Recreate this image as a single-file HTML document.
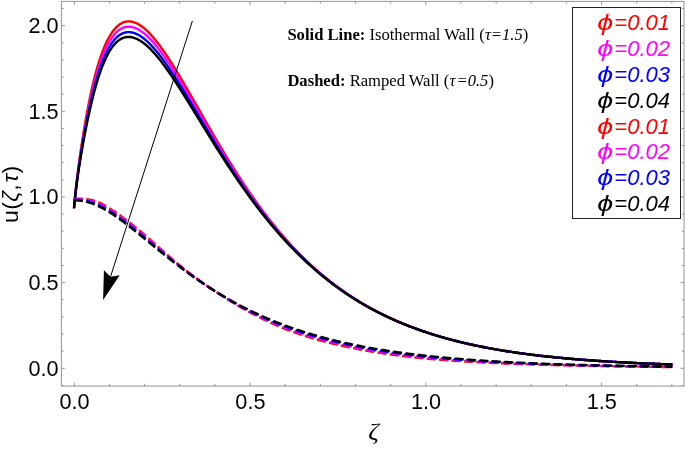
<!DOCTYPE html>
<html lang="en"><head><meta charset="utf-8"><title>u(ζ,τ) velocity profile</title>
<style>html,body{margin:0;padding:0;background:#fff}body{width:685px;height:450px;overflow:hidden}svg{display:block;will-change:transform}.t{font-family:"Liberation Sans",Arial,sans-serif;font-size:22px;fill:#000}.lg{font-family:"Liberation Sans",Arial,sans-serif;font-size:22px;font-style:italic}.an{font-family:"Liberation Serif","Times New Roman",serif;font-size:16.6px;fill:#000}</style></head><body>
<svg width="685" height="450" viewBox="0 0 685 450">
<rect width="685" height="450" fill="#fff"/>
<rect x="61.4" y="1.4" width="622.6" height="384.70000000000005" fill="none" stroke="#949494" stroke-width="1"/>
<path d="M74.30,386.1v-3.5M74.30,1.4v3.5M109.45,386.1v-2.2M109.45,1.4v2.2M144.60,386.1v-2.2M144.60,1.4v2.2M179.75,386.1v-2.2M179.75,1.4v2.2M214.90,386.1v-2.2M214.90,1.4v2.2M250.05,386.1v-3.5M250.05,1.4v3.5M285.20,386.1v-2.2M285.20,1.4v2.2M320.35,386.1v-2.2M320.35,1.4v2.2M355.50,386.1v-2.2M355.50,1.4v2.2M390.65,386.1v-2.2M390.65,1.4v2.2M425.80,386.1v-3.5M425.80,1.4v3.5M460.95,386.1v-2.2M460.95,1.4v2.2M496.10,386.1v-2.2M496.10,1.4v2.2M531.25,386.1v-2.2M531.25,1.4v2.2M566.40,386.1v-2.2M566.40,1.4v2.2M601.55,386.1v-3.5M601.55,1.4v3.5M636.70,386.1v-2.2M636.70,1.4v2.2M671.85,386.1v-2.2M671.85,1.4v2.2M61.4,385.43h2.2M684.0,385.43h-2.2M61.4,368.30h3.5M684.0,368.30h-3.5M61.4,351.17h2.2M684.0,351.17h-2.2M61.4,334.04h2.2M684.0,334.04h-2.2M61.4,316.91h2.2M684.0,316.91h-2.2M61.4,299.78h2.2M684.0,299.78h-2.2M61.4,282.65h3.5M684.0,282.65h-3.5M61.4,265.52h2.2M684.0,265.52h-2.2M61.4,248.39h2.2M684.0,248.39h-2.2M61.4,231.26h2.2M684.0,231.26h-2.2M61.4,214.13h2.2M684.0,214.13h-2.2M61.4,197.00h3.5M684.0,197.00h-3.5M61.4,179.87h2.2M684.0,179.87h-2.2M61.4,162.74h2.2M684.0,162.74h-2.2M61.4,145.61h2.2M684.0,145.61h-2.2M61.4,128.48h2.2M684.0,128.48h-2.2M61.4,111.35h3.5M684.0,111.35h-3.5M61.4,94.22h2.2M684.0,94.22h-2.2M61.4,77.09h2.2M684.0,77.09h-2.2M61.4,59.96h2.2M684.0,59.96h-2.2M61.4,42.83h2.2M684.0,42.83h-2.2M61.4,25.70h3.5M684.0,25.70h-3.5M61.4,8.57h2.2M684.0,8.57h-2.2" stroke="#949494" stroke-width="1" fill="none"/>
<text class="t" transform="translate(74.6,408.6) scale(0.985,1.04)" text-anchor="middle">0.0</text>
<text class="t" transform="translate(250.4,408.6) scale(0.985,1.04)" text-anchor="middle">0.5</text>
<text class="t" transform="translate(426.1,408.6) scale(0.985,1.04)" text-anchor="middle">1.0</text>
<text class="t" transform="translate(601.8,408.6) scale(0.985,1.04)" text-anchor="middle">1.5</text>
<text class="t" transform="translate(58.6,375.6) scale(0.985,1.04)" text-anchor="end">0.0</text>
<text class="t" transform="translate(58.6,289.9) scale(0.985,1.04)" text-anchor="end">0.5</text>
<text class="t" transform="translate(58.6,204.3) scale(0.985,1.04)" text-anchor="end">1.0</text>
<text class="t" transform="translate(58.6,118.6) scale(0.985,1.04)" text-anchor="end">1.5</text>
<text class="t" transform="translate(58.6,33.0) scale(0.985,1.04)" text-anchor="end">2.0</text>
<text transform="translate(373.6,438.5) scale(1.1,1)" text-anchor="middle" style="font-family:'Liberation Serif',serif;font-style:italic;font-size:24px">ζ</text>
<text class="t" transform="translate(17.6,194.2) rotate(-90) scale(1.04,1)" text-anchor="middle" letter-spacing="0.4">u(<tspan font-style="italic">ζ</tspan>,<tspan font-style="italic" dx="1.5">τ</tspan>)</text>
<path d="M74.00,208.24L74.30,204.91L74.59,201.70L74.89,198.60L75.18,195.61L75.48,192.72L75.77,189.92L76.07,187.19L76.37,184.54L76.66,181.95L76.96,179.43L77.25,176.96L77.55,174.54L77.85,172.17L78.14,169.84L78.44,167.55L78.73,165.31L79.03,163.09L79.32,160.91L79.62,158.77L79.92,156.65L80.21,154.56L80.51,152.50L80.80,150.46L81.10,148.45L81.39,146.47L81.69,144.50L81.99,142.56L82.28,140.64L82.58,138.74L82.87,136.87L83.17,135.01L83.47,133.18L83.76,131.36L84.06,129.56L84.35,127.79L84.65,126.03L84.94,124.29L85.24,122.57L85.54,120.87L85.83,119.19L86.13,117.53L86.42,115.88L86.72,114.26L87.02,112.65L87.31,111.06L87.61,109.48L87.90,107.93L88.20,106.39L88.49,104.88L88.79,103.38L89.09,101.89L89.38,100.43L89.68,98.98L89.97,97.55L90.27,96.14L90.56,94.74L90.86,93.36L91.16,92.00L91.45,90.66L91.75,89.33L92.04,88.02L92.34,86.73L92.64,85.45L92.93,84.19L93.23,82.95L93.52,81.72L93.82,80.51L94.11,79.31L94.41,78.13L94.71,76.97L95.00,75.82L95.30,74.69L95.59,73.57L95.89,72.47L96.18,71.39L96.48,70.32L96.78,69.26L97.07,68.22L97.37,67.19L97.66,66.18L97.96,65.19L98.26,64.21L98.55,63.24L98.85,62.29L99.14,61.35L99.44,60.42L99.73,59.51L100.03,58.61L100.33,57.73L100.62,56.86L100.92,56.00L101.21,55.16L101.51,54.33L101.81,53.51L102.10,52.71L102.40,51.92L102.69,51.14L102.99,50.37L103.28,49.62L103.58,48.88L103.88,48.15L104.17,47.43L104.47,46.73L104.76,46.03L105.06,45.35L105.35,44.68L105.65,44.03L105.95,43.38L106.24,42.75L106.54,42.12L106.83,41.51L107.13,40.91L107.43,40.32L107.72,39.74L108.02,39.17L108.31,38.61L108.61,38.07L108.90,37.53L109.20,37.00L109.91,35.79L110.62,34.63L111.32,33.53L112.03,32.48L112.74,31.49L113.45,30.55L114.15,29.66L114.86,28.83L115.57,28.04L116.28,27.31L116.98,26.62L117.69,25.98L118.40,25.38L119.11,24.83L119.81,24.32L120.52,23.86L121.23,23.44L121.94,23.06L122.64,22.73L123.35,22.43L124.06,22.17L124.77,21.95L125.47,21.77L126.18,21.62L126.89,21.51L127.60,21.44L128.30,21.40L129.01,21.40L129.72,21.42L130.43,21.49L131.13,21.58L131.84,21.70L132.55,21.86L133.26,22.05L133.96,22.26L134.67,22.51L135.38,22.78L136.09,23.08L136.79,23.41L137.50,23.76L138.21,24.14L138.92,24.55L139.62,24.98L140.33,25.44L141.04,25.92L141.75,26.42L142.45,26.94L143.16,27.49L143.87,28.06L144.58,28.66L145.28,29.27L145.99,29.90L146.70,30.56L147.41,31.23L148.11,31.92L148.82,32.64L149.53,33.37L150.24,34.11L150.94,34.88L151.65,35.66L152.36,36.46L153.07,37.28L153.77,38.11L154.48,38.95L155.19,39.82L155.90,40.69L156.61,41.58L157.31,42.49L158.02,43.41L158.73,44.34L159.44,45.28L160.14,46.24L160.85,47.21L161.56,48.19L162.27,49.18L162.97,50.19L163.68,51.20L164.39,52.23L165.10,53.26L165.80,54.31L166.51,55.36L167.22,56.42L167.93,57.50L168.63,58.58L169.34,59.67L170.05,60.77L170.76,61.88L171.46,62.99L172.17,64.11L172.88,65.24L173.59,66.37L174.29,67.52L175.00,68.66L175.71,69.82L176.42,70.98L177.12,72.14L177.83,73.32L178.54,74.49L179.25,75.67L179.95,76.86L180.66,78.05L181.37,79.24L182.08,80.44L182.78,81.64L183.49,82.85L184.20,84.06L184.91,85.27L185.61,86.49L186.32,87.70L187.03,88.92L187.74,90.15L188.44,91.37L189.15,92.60L189.86,93.83L190.57,95.06L191.27,96.30L191.98,97.53L192.69,98.77L193.40,100.00L194.10,101.24L194.81,102.48L195.52,103.72L196.23,104.96L196.93,106.20L197.64,107.44L198.35,108.68L199.06,109.92L199.76,111.16L200.47,112.40L201.18,113.64L201.89,114.88L202.59,116.11L203.30,117.35L204.01,118.59L204.72,119.82L205.43,121.06L206.13,122.29L206.84,123.52L207.55,124.75L208.26,125.98L208.96,127.21L209.67,128.44L210.38,129.66L211.09,130.88L211.79,132.10L212.50,133.32L213.21,134.53L213.92,135.75L214.62,136.96L215.33,138.16L216.04,139.37L216.75,140.57L217.45,141.77L218.16,142.97L218.87,144.17L219.58,145.36L220.28,146.55L220.99,147.73L221.70,148.92L222.41,150.10L223.11,151.27L223.82,152.45L224.53,153.62L225.24,154.78L225.94,155.95L226.65,157.11L227.36,158.26L228.07,159.42L228.77,160.57L229.48,161.71L230.19,162.85L230.90,163.99L231.60,165.13L232.31,166.26L233.02,167.39L233.73,168.51L234.43,169.63L235.14,170.74L235.85,171.85L236.56,172.96L237.26,174.06L237.97,175.16L238.68,176.26L239.39,177.35L240.09,178.44L240.80,179.52L241.51,180.60L242.22,181.67L242.92,182.74L243.63,183.81L244.34,184.87L245.05,185.92L245.75,186.98L246.46,188.02L247.17,189.07L247.88,190.11L248.58,191.14L249.29,192.17L250.00,193.20L251.41,195.23L252.83,197.25L254.24,199.25L255.65,201.23L257.06,203.20L258.48,205.14L259.89,207.07L261.30,208.98L262.71,210.87L264.13,212.75L265.54,214.60L266.95,216.44L268.37,218.26L269.78,220.06L271.19,221.85L272.60,223.61L274.02,225.36L275.43,227.09L276.84,228.80L278.25,230.50L279.67,232.17L281.08,233.83L282.49,235.47L283.91,237.10L285.32,238.70L286.73,240.29L288.14,241.87L289.56,243.42L290.97,244.96L292.38,246.48L293.79,247.99L295.21,249.47L296.62,250.94L298.03,252.40L299.44,253.84L300.86,255.26L302.27,256.67L303.68,258.06L305.10,259.43L306.51,260.79L307.92,262.14L309.33,263.46L310.75,264.78L312.16,266.08L313.57,267.36L314.98,268.63L316.40,269.88L317.81,271.12L319.22,272.34L320.64,273.55L322.05,274.75L323.46,275.93L324.87,277.09L326.29,278.25L327.70,279.39L329.11,280.51L330.52,281.63L331.94,282.72L333.35,283.81L334.76,284.88L336.18,285.94L337.59,286.99L339.00,288.02L340.41,289.05L341.83,290.06L343.24,291.05L344.65,292.04L346.06,293.01L347.48,293.97L348.89,294.92L350.30,295.86L351.72,296.79L353.13,297.70L354.54,298.60L355.95,299.50L357.37,300.38L358.78,301.25L360.19,302.11L361.60,302.96L363.02,303.80L364.43,304.62L365.84,305.44L367.25,306.25L368.67,307.05L370.08,307.84L371.49,308.61L372.91,309.38L374.32,310.14L375.73,310.89L377.14,311.63L378.56,312.36L379.97,313.08L381.38,313.79L382.79,314.50L384.21,315.19L385.62,315.87L387.03,316.55L388.45,317.22L389.86,317.88L391.27,318.53L392.68,319.17L394.10,319.81L395.51,320.44L396.92,321.06L398.33,321.67L399.75,322.27L401.16,322.87L402.57,323.45L403.99,324.03L405.40,324.61L406.81,325.17L408.22,325.73L409.64,326.28L411.05,326.83L412.46,327.37L413.87,327.90L415.29,328.42L416.70,328.94L418.11,329.45L419.53,329.95L420.94,330.45L422.35,330.94L423.76,331.43L425.18,331.90L426.59,332.38L428.00,332.84L429.41,333.30L430.83,333.76L432.24,334.21L433.65,334.65L435.06,335.09L436.48,335.52L437.89,335.94L439.30,336.36L440.72,336.78L442.13,337.19L443.54,337.59L444.95,337.99L446.37,338.39L447.78,338.77L449.19,339.16L450.60,339.54L452.02,339.91L453.43,340.28L454.84,340.64L456.26,341.00L457.67,341.36L459.08,341.71L460.49,342.05L461.91,342.40L463.32,342.73L464.73,343.07L466.14,343.39L467.56,343.72L468.97,344.04L470.38,344.35L471.80,344.66L473.21,344.97L474.62,345.27L476.03,345.57L477.45,345.87L478.86,346.16L480.27,346.45L481.68,346.73L483.10,347.01L484.51,347.29L485.92,347.56L487.34,347.83L488.75,348.10L490.16,348.36L491.57,348.62L492.99,348.87L494.40,349.13L495.81,349.38L497.22,349.62L498.64,349.86L500.05,350.10L501.46,350.34L502.87,350.57L504.29,350.80L505.70,351.03L507.11,351.25L508.53,351.47L509.94,351.69L511.35,351.91L512.76,352.12L514.18,352.33L515.59,352.54L517.00,352.74L518.41,352.94L519.83,353.14L521.24,353.34L522.65,353.53L524.07,353.72L525.48,353.91L526.89,354.10L528.30,354.28L529.72,354.46L531.13,354.64L532.54,354.82L533.95,354.99L535.37,355.17L536.78,355.34L538.19,355.50L539.61,355.67L541.02,355.83L542.43,355.99L543.84,356.15L545.26,356.31L546.67,356.46L548.08,356.62L549.49,356.77L550.91,356.92L552.32,357.06L553.73,357.21L555.15,357.35L556.56,357.49L557.97,357.63L559.38,357.77L560.80,357.90L562.21,358.04L563.62,358.17L565.03,358.30L566.45,358.43L567.86,358.55L569.27,358.68L570.68,358.80L572.10,358.92L573.51,359.04L574.92,359.16L576.34,359.28L577.75,359.40L579.16,359.51L580.57,359.62L581.99,359.73L583.40,359.84L584.81,359.95L586.22,360.06L587.64,360.16L589.05,360.27L590.46,360.37L591.88,360.47L593.29,360.57L594.70,360.67L596.11,360.77L597.53,360.86L598.94,360.96L600.35,361.05L601.76,361.14L603.18,361.23L604.59,361.32L606.00,361.41L607.42,361.50L608.83,361.59L610.24,361.67L611.65,361.75L613.07,361.84L614.48,361.92L615.89,362.00L617.30,362.08L618.72,362.16L620.13,362.23L621.54,362.31L622.96,362.39L624.37,362.46L625.78,362.53L627.19,362.61L628.61,362.68L630.02,362.75L631.43,362.82L632.84,362.89L634.26,362.96L635.67,363.02L637.08,363.09L638.49,363.15L639.91,363.22L641.32,363.28L642.73,363.34L644.15,363.41L645.56,363.47L646.97,363.53L648.38,363.59L649.80,363.65L651.21,363.70L652.62,363.76L654.03,363.82L655.45,363.87L656.86,363.93L658.27,363.98L659.69,364.03L661.10,364.09L662.51,364.14L663.92,364.19L665.34,364.24L666.75,364.29L668.16,364.34L669.57,364.39L670.99,364.44L672.40,364.48" fill="none" stroke="#ff0000" stroke-width="2.4" stroke-linejoin="round"/>
<path d="M74.00,208.24L74.30,204.99L74.59,201.86L74.89,198.85L75.18,195.95L75.48,193.15L75.77,190.43L76.07,187.80L76.37,185.24L76.66,182.75L76.96,180.32L77.25,177.95L77.55,175.62L77.85,173.35L78.14,171.12L78.44,168.92L78.73,166.77L79.03,164.65L79.32,162.57L79.62,160.51L79.92,158.48L80.21,156.48L80.51,154.51L80.80,152.56L81.10,150.63L81.39,148.73L81.69,146.85L81.99,144.98L82.28,143.14L82.58,141.32L82.87,139.52L83.17,137.74L83.47,135.97L83.76,134.23L84.06,132.50L84.35,130.79L84.65,129.10L84.94,127.42L85.24,125.77L85.54,124.12L85.83,122.50L86.13,120.89L86.42,119.30L86.72,117.73L87.02,116.18L87.31,114.64L87.61,113.11L87.90,111.61L88.20,110.12L88.49,108.64L88.79,107.19L89.09,105.75L89.38,104.32L89.68,102.91L89.97,101.52L90.27,100.15L90.56,98.79L90.86,97.44L91.16,96.12L91.45,94.81L91.75,93.51L92.04,92.23L92.34,90.97L92.64,89.72L92.93,88.49L93.23,87.27L93.52,86.07L93.82,84.88L94.11,83.71L94.41,82.56L94.71,81.41L95.00,80.29L95.30,79.18L95.59,78.08L95.89,77.00L96.18,75.94L96.48,74.88L96.78,73.85L97.07,72.82L97.37,71.82L97.66,70.82L97.96,69.84L98.26,68.87L98.55,67.92L98.85,66.98L99.14,66.06L99.44,65.15L99.73,64.25L100.03,63.36L100.33,62.49L100.62,61.64L100.92,60.79L101.21,59.96L101.51,59.14L101.81,58.33L102.10,57.54L102.40,56.76L102.69,55.99L102.99,55.23L103.28,54.49L103.58,53.76L103.88,53.04L104.17,52.33L104.47,51.63L104.76,50.95L105.06,50.27L105.35,49.61L105.65,48.96L105.95,48.32L106.24,47.70L106.54,47.08L106.83,46.48L107.13,45.88L107.43,45.30L107.72,44.73L108.02,44.16L108.31,43.61L108.61,43.07L108.90,42.54L109.20,42.02L109.91,40.82L110.62,39.68L111.32,38.59L112.03,37.56L112.74,36.58L113.45,35.65L114.15,34.78L114.86,33.95L115.57,33.18L116.28,32.45L116.98,31.78L117.69,31.15L118.40,30.56L119.11,30.02L119.81,29.52L120.52,29.07L121.23,28.66L121.94,28.29L122.64,27.96L123.35,27.67L124.06,27.42L124.77,27.21L125.47,27.03L126.18,26.89L126.89,26.79L127.60,26.72L128.30,26.68L129.01,26.68L129.72,26.71L130.43,26.77L131.13,26.87L131.84,26.99L132.55,27.15L133.26,27.33L133.96,27.55L134.67,27.79L135.38,28.06L136.09,28.35L136.79,28.68L137.50,29.02L138.21,29.40L138.92,29.80L139.62,30.22L140.33,30.67L141.04,31.14L141.75,31.63L142.45,32.14L143.16,32.68L143.87,33.24L144.58,33.82L145.28,34.42L145.99,35.04L146.70,35.68L147.41,36.34L148.11,37.01L148.82,37.71L149.53,38.42L150.24,39.15L150.94,39.90L151.65,40.66L152.36,41.44L153.07,42.24L153.77,43.05L154.48,43.88L155.19,44.72L155.90,45.58L156.61,46.45L157.31,47.33L158.02,48.23L158.73,49.14L159.44,50.06L160.14,50.99L160.85,51.94L161.56,52.90L162.27,53.87L162.97,54.85L163.68,55.84L164.39,56.84L165.10,57.86L165.80,58.88L166.51,59.91L167.22,60.95L167.93,62.00L168.63,63.05L169.34,64.12L170.05,65.19L170.76,66.27L171.46,67.36L172.17,68.46L172.88,69.56L173.59,70.67L174.29,71.79L175.00,72.91L175.71,74.04L176.42,75.17L177.12,76.31L177.83,77.45L178.54,78.60L179.25,79.76L179.95,80.92L180.66,82.08L181.37,83.25L182.08,84.42L182.78,85.59L183.49,86.77L184.20,87.95L184.91,89.13L185.61,90.32L186.32,91.51L187.03,92.70L187.74,93.90L188.44,95.10L189.15,96.29L189.86,97.50L190.57,98.70L191.27,99.90L191.98,101.11L192.69,102.31L193.40,103.52L194.10,104.73L194.81,105.94L195.52,107.15L196.23,108.36L196.93,109.57L197.64,110.78L198.35,111.99L199.06,113.20L199.76,114.41L200.47,115.63L201.18,116.84L201.89,118.04L202.59,119.25L203.30,120.46L204.01,121.67L204.72,122.88L205.43,124.08L206.13,125.28L206.84,126.49L207.55,127.69L208.26,128.89L208.96,130.09L209.67,131.28L210.38,132.48L211.09,133.67L211.79,134.86L212.50,136.05L213.21,137.24L213.92,138.42L214.62,139.61L215.33,140.79L216.04,141.97L216.75,143.14L217.45,144.31L218.16,145.48L218.87,146.65L219.58,147.82L220.28,148.98L220.99,150.14L221.70,151.29L222.41,152.45L223.11,153.60L223.82,154.75L224.53,155.89L225.24,157.03L225.94,158.17L226.65,159.30L227.36,160.43L228.07,161.56L228.77,162.69L229.48,163.81L230.19,164.92L230.90,166.04L231.60,167.15L232.31,168.25L233.02,169.36L233.73,170.46L234.43,171.55L235.14,172.64L235.85,173.73L236.56,174.82L237.26,175.90L237.97,176.97L238.68,178.04L239.39,179.11L240.09,180.18L240.80,181.24L241.51,182.29L242.22,183.35L242.92,184.39L243.63,185.44L244.34,186.48L245.05,187.51L245.75,188.55L246.46,189.57L247.17,190.60L247.88,191.62L248.58,192.63L249.29,193.64L250.00,194.65L251.41,196.65L252.83,198.63L254.24,200.59L255.65,202.54L257.06,204.46L258.48,206.38L259.89,208.27L261.30,210.15L262.71,212.01L264.13,213.85L265.54,215.67L266.95,217.48L268.37,219.27L269.78,221.04L271.19,222.80L272.60,224.54L274.02,226.26L275.43,227.96L276.84,229.65L278.25,231.32L279.67,232.97L281.08,234.60L282.49,236.22L283.91,237.82L285.32,239.41L286.73,240.98L288.14,242.53L289.56,244.06L290.97,245.58L292.38,247.08L293.79,248.57L295.21,250.04L296.62,251.49L298.03,252.93L299.44,254.35L300.86,255.76L302.27,257.15L303.68,258.53L305.10,259.89L306.51,261.23L307.92,262.56L309.33,263.88L310.75,265.17L312.16,266.46L313.57,267.73L314.98,268.99L316.40,270.23L317.81,271.45L319.22,272.67L320.64,273.87L322.05,275.05L323.46,276.22L324.87,277.38L326.29,278.52L327.70,279.65L329.11,280.77L330.52,281.87L331.94,282.96L333.35,284.04L334.76,285.11L336.18,286.16L337.59,287.20L339.00,288.23L340.41,289.24L341.83,290.24L343.24,291.23L344.65,292.21L346.06,293.18L347.48,294.14L348.89,295.08L350.30,296.01L351.72,296.93L353.13,297.84L354.54,298.74L355.95,299.63L357.37,300.51L358.78,301.37L360.19,302.23L361.60,303.07L363.02,303.91L364.43,304.73L365.84,305.54L367.25,306.35L368.67,307.14L370.08,307.93L371.49,308.70L372.91,309.47L374.32,310.22L375.73,310.97L377.14,311.70L378.56,312.43L379.97,313.15L381.38,313.86L382.79,314.56L384.21,315.25L385.62,315.94L387.03,316.61L388.45,317.28L389.86,317.93L391.27,318.58L392.68,319.22L394.10,319.86L395.51,320.48L396.92,321.10L398.33,321.71L399.75,322.31L401.16,322.91L402.57,323.49L403.99,324.07L405.40,324.64L406.81,325.21L408.22,325.77L409.64,326.32L411.05,326.86L412.46,327.40L413.87,327.93L415.29,328.45L416.70,328.96L418.11,329.47L419.53,329.98L420.94,330.47L422.35,330.96L423.76,331.45L425.18,331.93L426.59,332.40L428.00,332.86L429.41,333.32L430.83,333.78L432.24,334.22L433.65,334.67L435.06,335.10L436.48,335.53L437.89,335.96L439.30,336.38L440.72,336.79L442.13,337.20L443.54,337.61L444.95,338.00L446.37,338.40L447.78,338.79L449.19,339.17L450.60,339.55L452.02,339.92L453.43,340.29L454.84,340.65L456.26,341.01L457.67,341.37L459.08,341.72L460.49,342.06L461.91,342.40L463.32,342.74L464.73,343.07L466.14,343.40L467.56,343.72L468.97,344.04L470.38,344.36L471.80,344.67L473.21,344.98L474.62,345.28L476.03,345.58L477.45,345.87L478.86,346.16L480.27,346.45L481.68,346.74L483.10,347.02L484.51,347.29L485.92,347.57L487.34,347.83L488.75,348.10L490.16,348.36L491.57,348.62L492.99,348.88L494.40,349.13L495.81,349.38L497.22,349.62L498.64,349.87L500.05,350.11L501.46,350.34L502.87,350.57L504.29,350.80L505.70,351.03L507.11,351.26L508.53,351.48L509.94,351.70L511.35,351.91L512.76,352.12L514.18,352.33L515.59,352.54L517.00,352.74L518.41,352.95L519.83,353.14L521.24,353.34L522.65,353.53L524.07,353.73L525.48,353.91L526.89,354.10L528.30,354.28L529.72,354.47L531.13,354.64L532.54,354.82L533.95,355.00L535.37,355.17L536.78,355.34L538.19,355.50L539.61,355.67L541.02,355.83L542.43,355.99L543.84,356.15L545.26,356.31L546.67,356.46L548.08,356.62L549.49,356.77L550.91,356.92L552.32,357.06L553.73,357.21L555.15,357.35L556.56,357.49L557.97,357.63L559.38,357.77L560.80,357.90L562.21,358.04L563.62,358.17L565.03,358.30L566.45,358.43L567.86,358.55L569.27,358.68L570.68,358.80L572.10,358.92L573.51,359.04L574.92,359.16L576.34,359.28L577.75,359.40L579.16,359.51L580.57,359.62L581.99,359.73L583.40,359.84L584.81,359.95L586.22,360.06L587.64,360.16L589.05,360.27L590.46,360.37L591.88,360.47L593.29,360.57L594.70,360.67L596.11,360.77L597.53,360.86L598.94,360.96L600.35,361.05L601.76,361.14L603.18,361.23L604.59,361.32L606.00,361.41L607.42,361.50L608.83,361.59L610.24,361.67L611.65,361.75L613.07,361.84L614.48,361.92L615.89,362.00L617.30,362.08L618.72,362.16L620.13,362.24L621.54,362.31L622.96,362.39L624.37,362.46L625.78,362.53L627.19,362.61L628.61,362.68L630.02,362.75L631.43,362.82L632.84,362.89L634.26,362.96L635.67,363.02L637.08,363.09L638.49,363.15L639.91,363.22L641.32,363.28L642.73,363.34L644.15,363.41L645.56,363.47L646.97,363.53L648.38,363.59L649.80,363.65L651.21,363.70L652.62,363.76L654.03,363.82L655.45,363.87L656.86,363.93L658.27,363.98L659.69,364.03L661.10,364.09L662.51,364.14L663.92,364.19L665.34,364.24L666.75,364.29L668.16,364.34L669.57,364.39L670.99,364.44L672.40,364.48" fill="none" stroke="#ff00ff" stroke-width="2.4" stroke-linejoin="round"/>
<path d="M74.00,208.25L74.30,205.07L74.59,202.02L74.89,199.10L75.18,196.29L75.48,193.59L75.77,190.97L76.07,188.43L76.37,185.97L76.66,183.57L76.96,181.24L77.25,178.97L77.55,176.74L77.85,174.57L78.14,172.43L78.44,170.34L78.73,168.28L79.03,166.26L79.32,164.26L79.62,162.30L79.92,160.37L80.21,158.46L80.51,156.57L80.80,154.71L81.10,152.87L81.39,151.06L81.69,149.26L81.99,147.48L82.28,145.72L82.58,143.98L82.87,142.25L83.17,140.54L83.47,138.85L83.76,137.18L84.06,135.52L84.35,133.88L84.65,132.26L84.94,130.65L85.24,129.05L85.54,127.47L85.83,125.91L86.13,124.36L86.42,122.83L86.72,121.31L87.02,119.81L87.31,118.32L87.61,116.85L87.90,115.39L88.20,113.95L88.49,112.52L88.79,111.11L89.09,109.71L89.38,108.33L89.68,106.96L89.97,105.61L90.27,104.28L90.56,102.95L90.86,101.65L91.16,100.35L91.45,99.08L91.75,97.81L92.04,96.57L92.34,95.33L92.64,94.11L92.93,92.91L93.23,91.72L93.52,90.55L93.82,89.39L94.11,88.24L94.41,87.11L94.71,85.99L95.00,84.89L95.30,83.80L95.59,82.73L95.89,81.67L96.18,80.62L96.48,79.59L96.78,78.57L97.07,77.56L97.37,76.57L97.66,75.59L97.96,74.63L98.26,73.68L98.55,72.74L98.85,71.82L99.14,70.91L99.44,70.01L99.73,69.13L100.03,68.26L100.33,67.40L100.62,66.55L100.92,65.72L101.21,64.90L101.51,64.09L101.81,63.29L102.10,62.51L102.40,61.74L102.69,60.98L102.99,60.23L103.28,59.50L103.58,58.78L103.88,58.07L104.17,57.37L104.47,56.68L104.76,56.00L105.06,55.34L105.35,54.69L105.65,54.04L105.95,53.41L106.24,52.79L106.54,52.18L106.83,51.59L107.13,51.00L107.43,50.42L107.72,49.86L108.02,49.30L108.31,48.76L108.61,48.23L108.90,47.70L109.20,47.19L109.91,46.00L110.62,44.87L111.32,43.80L112.03,42.78L112.74,41.81L113.45,40.90L114.15,40.04L114.86,39.23L115.57,38.47L116.28,37.75L116.98,37.09L117.69,36.47L118.40,35.89L119.11,35.36L119.81,34.88L120.52,34.43L121.23,34.03L121.94,33.67L122.64,33.35L123.35,33.07L124.06,32.82L124.77,32.62L125.47,32.45L126.18,32.31L126.89,32.21L127.60,32.15L128.30,32.12L129.01,32.12L129.72,32.15L130.43,32.22L131.13,32.31L131.84,32.44L132.55,32.59L133.26,32.78L133.96,32.99L134.67,33.22L135.38,33.49L136.09,33.78L136.79,34.10L137.50,34.44L138.21,34.81L138.92,35.20L139.62,35.61L140.33,36.05L141.04,36.51L141.75,36.99L142.45,37.50L143.16,38.02L143.87,38.57L144.58,39.13L145.28,39.72L145.99,40.32L146.70,40.95L147.41,41.59L148.11,42.25L148.82,42.93L149.53,43.62L150.24,44.34L150.94,45.07L151.65,45.81L152.36,46.57L153.07,47.35L153.77,48.14L154.48,48.95L155.19,49.77L155.90,50.60L156.61,51.45L157.31,52.31L158.02,53.19L158.73,54.08L159.44,54.98L160.14,55.89L160.85,56.81L161.56,57.75L162.27,58.70L162.97,59.65L163.68,60.62L164.39,61.60L165.10,62.59L165.80,63.58L166.51,64.59L167.22,65.60L167.93,66.63L168.63,67.66L169.34,68.70L170.05,69.75L170.76,70.80L171.46,71.87L172.17,72.94L172.88,74.01L173.59,75.10L174.29,76.19L175.00,77.28L175.71,78.38L176.42,79.49L177.12,80.60L177.83,81.72L178.54,82.84L179.25,83.96L179.95,85.09L180.66,86.23L181.37,87.37L182.08,88.51L182.78,89.66L183.49,90.81L184.20,91.96L184.91,93.11L185.61,94.27L186.32,95.43L187.03,96.59L187.74,97.76L188.44,98.93L189.15,100.10L189.86,101.27L190.57,102.44L191.27,103.62L191.98,104.79L192.69,105.97L193.40,107.15L194.10,108.32L194.81,109.50L195.52,110.68L196.23,111.86L196.93,113.04L197.64,114.22L198.35,115.41L199.06,116.59L199.76,117.77L200.47,118.95L201.18,120.13L201.89,121.31L202.59,122.49L203.30,123.66L204.01,124.84L204.72,126.02L205.43,127.19L206.13,128.37L206.84,129.54L207.55,130.71L208.26,131.88L208.96,133.05L209.67,134.22L210.38,135.38L211.09,136.55L211.79,137.71L212.50,138.87L213.21,140.03L213.92,141.18L214.62,142.34L215.33,143.49L216.04,144.64L216.75,145.78L217.45,146.93L218.16,148.07L218.87,149.21L219.58,150.35L220.28,151.48L220.99,152.61L221.70,153.74L222.41,154.87L223.11,155.99L223.82,157.11L224.53,158.23L225.24,159.34L225.94,160.45L226.65,161.56L227.36,162.67L228.07,163.77L228.77,164.87L229.48,165.96L230.19,167.05L230.90,168.14L231.60,169.23L232.31,170.31L233.02,171.39L233.73,172.46L234.43,173.53L235.14,174.60L235.85,175.66L236.56,176.72L237.26,177.78L237.97,178.83L238.68,179.88L239.39,180.93L240.09,181.97L240.80,183.01L241.51,184.04L242.22,185.07L242.92,186.10L243.63,187.12L244.34,188.14L245.05,189.15L245.75,190.16L246.46,191.17L247.17,192.17L247.88,193.17L248.58,194.17L249.29,195.16L250.00,196.14L251.41,198.10L252.83,200.04L254.24,201.97L255.65,203.88L257.06,205.77L258.48,207.64L259.89,209.50L261.30,211.35L262.71,213.17L264.13,214.98L265.54,216.77L266.95,218.55L268.37,220.31L269.78,222.05L271.19,223.78L272.60,225.49L274.02,227.18L275.43,228.86L276.84,230.52L278.25,232.16L279.67,233.79L281.08,235.40L282.49,236.99L283.91,238.57L285.32,240.13L286.73,241.68L288.14,243.21L289.56,244.72L290.97,246.22L292.38,247.71L293.79,249.17L295.21,250.62L296.62,252.06L298.03,253.48L299.44,254.88L300.86,256.27L302.27,257.65L303.68,259.01L305.10,260.35L306.51,261.68L307.92,263.00L309.33,264.30L310.75,265.58L312.16,266.86L313.57,268.11L314.98,269.36L316.40,270.58L317.81,271.80L319.22,273.00L320.64,274.19L322.05,275.36L323.46,276.52L324.87,277.67L326.29,278.80L327.70,279.93L329.11,281.03L330.52,282.13L331.94,283.21L333.35,284.28L334.76,285.34L336.18,286.38L337.59,287.41L339.00,288.43L340.41,289.44L341.83,290.44L343.24,291.42L344.65,292.39L346.06,293.35L347.48,294.30L348.89,295.24L350.30,296.17L351.72,297.08L353.13,297.99L354.54,298.88L355.95,299.76L357.37,300.64L358.78,301.50L360.19,302.35L361.60,303.19L363.02,304.02L364.43,304.84L365.84,305.65L367.25,306.45L368.67,307.24L370.08,308.02L371.49,308.79L372.91,309.55L374.32,310.31L375.73,311.05L377.14,311.78L378.56,312.51L379.97,313.22L381.38,313.93L382.79,314.63L384.21,315.32L385.62,316.00L387.03,316.67L388.45,317.33L389.86,317.99L391.27,318.64L392.68,319.28L394.10,319.91L395.51,320.53L396.92,321.15L398.33,321.75L399.75,322.35L401.16,322.95L402.57,323.53L403.99,324.11L405.40,324.68L406.81,325.24L408.22,325.80L409.64,326.35L411.05,326.89L412.46,327.43L413.87,327.95L415.29,328.48L416.70,328.99L418.11,329.50L419.53,330.00L420.94,330.50L422.35,330.99L423.76,331.47L425.18,331.95L426.59,332.42L428.00,332.88L429.41,333.34L430.83,333.79L432.24,334.24L433.65,334.68L435.06,335.12L436.48,335.55L437.89,335.97L439.30,336.39L440.72,336.81L442.13,337.22L443.54,337.62L444.95,338.02L446.37,338.41L447.78,338.80L449.19,339.18L450.60,339.56L452.02,339.93L453.43,340.30L454.84,340.66L456.26,341.02L457.67,341.38L459.08,341.73L460.49,342.07L461.91,342.41L463.32,342.75L464.73,343.08L466.14,343.41L467.56,343.73L468.97,344.05L470.38,344.36L471.80,344.67L473.21,344.98L474.62,345.28L476.03,345.58L477.45,345.88L478.86,346.17L480.27,346.46L481.68,346.74L483.10,347.02L484.51,347.30L485.92,347.57L487.34,347.84L488.75,348.10L490.16,348.37L491.57,348.63L492.99,348.88L494.40,349.13L495.81,349.38L497.22,349.63L498.64,349.87L500.05,350.11L501.46,350.34L502.87,350.58L504.29,350.81L505.70,351.03L507.11,351.26L508.53,351.48L509.94,351.70L511.35,351.91L512.76,352.12L514.18,352.33L515.59,352.54L517.00,352.75L518.41,352.95L519.83,353.15L521.24,353.34L522.65,353.54L524.07,353.73L525.48,353.92L526.89,354.10L528.30,354.29L529.72,354.47L531.13,354.65L532.54,354.82L533.95,355.00L535.37,355.17L536.78,355.34L538.19,355.51L539.61,355.67L541.02,355.83L542.43,355.99L543.84,356.15L545.26,356.31L546.67,356.46L548.08,356.62L549.49,356.77L550.91,356.92L552.32,357.06L553.73,357.21L555.15,357.35L556.56,357.49L557.97,357.63L559.38,357.77L560.80,357.90L562.21,358.04L563.62,358.17L565.03,358.30L566.45,358.43L567.86,358.55L569.27,358.68L570.68,358.80L572.10,358.93L573.51,359.05L574.92,359.16L576.34,359.28L577.75,359.40L579.16,359.51L580.57,359.62L581.99,359.73L583.40,359.84L584.81,359.95L586.22,360.06L587.64,360.16L589.05,360.27L590.46,360.37L591.88,360.47L593.29,360.57L594.70,360.67L596.11,360.77L597.53,360.86L598.94,360.96L600.35,361.05L601.76,361.14L603.18,361.23L604.59,361.32L606.00,361.41L607.42,361.50L608.83,361.59L610.24,361.67L611.65,361.75L613.07,361.84L614.48,361.92L615.89,362.00L617.30,362.08L618.72,362.16L620.13,362.24L621.54,362.31L622.96,362.39L624.37,362.46L625.78,362.53L627.19,362.61L628.61,362.68L630.02,362.75L631.43,362.82L632.84,362.89L634.26,362.96L635.67,363.02L637.08,363.09L638.49,363.15L639.91,363.22L641.32,363.28L642.73,363.34L644.15,363.41L645.56,363.47L646.97,363.53L648.38,363.59L649.80,363.65L651.21,363.70L652.62,363.76L654.03,363.82L655.45,363.87L656.86,363.93L658.27,363.98L659.69,364.03L661.10,364.09L662.51,364.14L663.92,364.19L665.34,364.24L666.75,364.29L668.16,364.34L669.57,364.39L670.99,364.44L672.40,364.48" fill="none" stroke="#0000ff" stroke-width="2.4" stroke-linejoin="round"/>
<path d="M74.00,208.25L74.30,205.14L74.59,202.17L74.89,199.33L75.18,196.60L75.48,193.97L75.77,191.44L76.07,188.99L76.37,186.61L76.66,184.30L76.96,182.06L77.25,179.87L77.55,177.73L77.85,175.64L78.14,173.60L78.44,171.59L78.73,169.62L79.03,167.68L79.32,165.77L79.62,163.89L79.92,162.04L80.21,160.21L80.51,158.41L80.80,156.62L81.10,154.86L81.39,153.12L81.69,151.39L81.99,149.69L82.28,148.00L82.58,146.33L82.87,144.67L83.17,143.03L83.47,141.40L83.76,139.79L84.06,138.20L84.35,136.62L84.65,135.05L84.94,133.50L85.24,131.96L85.54,130.44L85.83,128.93L86.13,127.43L86.42,125.95L86.72,124.48L87.02,123.03L87.31,121.58L87.61,120.16L87.90,118.74L88.20,117.34L88.49,115.96L88.79,114.59L89.09,113.23L89.38,111.88L89.68,110.55L89.97,109.24L90.27,107.93L90.56,106.64L90.86,105.37L91.16,104.11L91.45,102.86L91.75,101.63L92.04,100.41L92.34,99.20L92.64,98.01L92.93,96.83L93.23,95.66L93.52,94.51L93.82,93.38L94.11,92.25L94.41,91.14L94.71,90.05L95.00,88.96L95.30,87.89L95.59,86.84L95.89,85.80L96.18,84.77L96.48,83.75L96.78,82.75L97.07,81.76L97.37,80.79L97.66,79.82L97.96,78.87L98.26,77.94L98.55,77.01L98.85,76.10L99.14,75.20L99.44,74.32L99.73,73.45L100.03,72.59L100.33,71.74L100.62,70.91L100.92,70.08L101.21,69.27L101.51,68.47L101.81,67.69L102.10,66.91L102.40,66.15L102.69,65.40L102.99,64.67L103.28,63.94L103.58,63.22L103.88,62.52L104.17,61.83L104.47,61.15L104.76,60.48L105.06,59.82L105.35,59.18L105.65,58.54L105.95,57.92L106.24,57.31L106.54,56.71L106.83,56.11L107.13,55.53L107.43,54.96L107.72,54.40L108.02,53.86L108.31,53.32L108.61,52.79L108.90,52.27L109.20,51.76L109.91,50.59L110.62,49.47L111.32,48.41L112.03,47.40L112.74,46.45L113.45,45.55L114.15,44.70L114.86,43.90L115.57,43.15L116.28,42.44L116.98,41.79L117.69,41.18L118.40,40.62L119.11,40.09L119.81,39.62L120.52,39.18L121.23,38.79L121.94,38.44L122.64,38.12L123.35,37.85L124.06,37.61L124.77,37.41L125.47,37.25L126.18,37.12L126.89,37.02L127.60,36.96L128.30,36.93L129.01,36.94L129.72,36.97L130.43,37.04L131.13,37.13L131.84,37.26L132.55,37.41L133.26,37.60L133.96,37.80L134.67,38.04L135.38,38.30L136.09,38.59L136.79,38.90L137.50,39.24L138.21,39.60L138.92,39.98L139.62,40.39L140.33,40.82L141.04,41.27L141.75,41.74L142.45,42.24L143.16,42.75L143.87,43.29L144.58,43.84L145.28,44.41L145.99,45.00L146.70,45.61L147.41,46.24L148.11,46.89L148.82,47.55L149.53,48.23L150.24,48.93L150.94,49.64L151.65,50.37L152.36,51.12L153.07,51.87L153.77,52.65L154.48,53.44L155.19,54.24L155.90,55.06L156.61,55.89L157.31,56.73L158.02,57.58L158.73,58.45L159.44,59.33L160.14,60.23L160.85,61.13L161.56,62.04L162.27,62.97L162.97,63.91L163.68,64.85L164.39,65.81L165.10,66.77L165.80,67.75L166.51,68.73L167.22,69.73L167.93,70.73L168.63,71.74L169.34,72.76L170.05,73.78L170.76,74.82L171.46,75.85L172.17,76.90L172.88,77.95L173.59,79.01L174.29,80.08L175.00,81.15L175.71,82.23L176.42,83.31L177.12,84.40L177.83,85.49L178.54,86.59L179.25,87.69L179.95,88.80L180.66,89.90L181.37,91.02L182.08,92.14L182.78,93.26L183.49,94.38L184.20,95.51L184.91,96.64L185.61,97.77L186.32,98.90L187.03,100.04L187.74,101.18L188.44,102.32L189.15,103.47L189.86,104.61L190.57,105.76L191.27,106.90L191.98,108.05L192.69,109.20L193.40,110.35L194.10,111.51L194.81,112.66L195.52,113.81L196.23,114.97L196.93,116.12L197.64,117.27L198.35,118.43L199.06,119.58L199.76,120.74L200.47,121.89L201.18,123.04L201.89,124.20L202.59,125.35L203.30,126.50L204.01,127.65L204.72,128.80L205.43,129.95L206.13,131.10L206.84,132.24L207.55,133.39L208.26,134.53L208.96,135.67L209.67,136.81L210.38,137.95L211.09,139.09L211.79,140.23L212.50,141.36L213.21,142.49L213.92,143.62L214.62,144.75L215.33,145.88L216.04,147.00L216.75,148.12L217.45,149.24L218.16,150.36L218.87,151.48L219.58,152.59L220.28,153.70L220.99,154.81L221.70,155.91L222.41,157.01L223.11,158.11L223.82,159.21L224.53,160.30L225.24,161.39L225.94,162.48L226.65,163.56L227.36,164.65L228.07,165.72L228.77,166.80L229.48,167.87L230.19,168.94L230.90,170.01L231.60,171.07L232.31,172.13L233.02,173.19L233.73,174.24L234.43,175.29L235.14,176.33L235.85,177.38L236.56,178.42L237.26,179.45L237.97,180.48L238.68,181.51L239.39,182.54L240.09,183.56L240.80,184.58L241.51,185.59L242.22,186.60L242.92,187.61L243.63,188.61L244.34,189.61L245.05,190.60L245.75,191.60L246.46,192.58L247.17,193.57L247.88,194.55L248.58,195.52L249.29,196.50L250.00,197.47L251.41,199.39L252.83,201.30L254.24,203.19L255.65,205.06L257.06,206.92L258.48,208.77L259.89,210.59L261.30,212.41L262.71,214.20L264.13,215.98L265.54,217.75L266.95,219.50L268.37,221.23L269.78,222.95L271.19,224.65L272.60,226.33L274.02,228.00L275.43,229.65L276.84,231.29L278.25,232.91L279.67,234.51L281.08,236.10L282.49,237.68L283.91,239.23L285.32,240.78L286.73,242.30L288.14,243.81L289.56,245.31L290.97,246.79L292.38,248.26L293.79,249.71L295.21,251.14L296.62,252.56L298.03,253.96L299.44,255.35L300.86,256.73L302.27,258.09L303.68,259.43L305.10,260.76L306.51,262.08L307.92,263.38L309.33,264.67L310.75,265.95L312.16,267.21L313.57,268.45L314.98,269.68L316.40,270.90L317.81,272.11L319.22,273.30L320.64,274.48L322.05,275.64L323.46,276.79L324.87,277.93L326.29,279.05L327.70,280.17L329.11,281.27L330.52,282.35L331.94,283.43L333.35,284.49L334.76,285.54L336.18,286.58L337.59,287.60L339.00,288.62L340.41,289.62L341.83,290.61L343.24,291.59L344.65,292.55L346.06,293.51L347.48,294.45L348.89,295.38L350.30,296.31L351.72,297.22L353.13,298.12L354.54,299.01L355.95,299.88L357.37,300.75L358.78,301.61L360.19,302.46L361.60,303.29L363.02,304.12L364.43,304.94L365.84,305.74L367.25,306.54L368.67,307.33L370.08,308.10L371.49,308.87L372.91,309.63L374.32,310.38L375.73,311.12L377.14,311.85L378.56,312.57L379.97,313.29L381.38,313.99L382.79,314.69L384.21,315.38L385.62,316.05L387.03,316.72L388.45,317.39L389.86,318.04L391.27,318.69L392.68,319.32L394.10,319.95L395.51,320.57L396.92,321.19L398.33,321.79L399.75,322.39L401.16,322.98L402.57,323.57L403.99,324.14L405.40,324.71L406.81,325.27L408.22,325.83L409.64,326.38L411.05,326.92L412.46,327.45L413.87,327.98L415.29,328.50L416.70,329.02L418.11,329.52L419.53,330.02L420.94,330.52L422.35,331.01L423.76,331.49L425.18,331.97L426.59,332.44L428.00,332.90L429.41,333.36L430.83,333.81L432.24,334.26L433.65,334.70L435.06,335.13L436.48,335.56L437.89,335.99L439.30,336.41L440.72,336.82L442.13,337.23L443.54,337.63L444.95,338.03L446.37,338.42L447.78,338.81L449.19,339.19L450.60,339.57L452.02,339.94L453.43,340.31L454.84,340.67L456.26,341.03L457.67,341.38L459.08,341.73L460.49,342.08L461.91,342.42L463.32,342.75L464.73,343.09L466.14,343.41L467.56,343.74L468.97,344.05L470.38,344.37L471.80,344.68L473.21,344.99L474.62,345.29L476.03,345.59L477.45,345.88L478.86,346.17L480.27,346.46L481.68,346.74L483.10,347.02L484.51,347.30L485.92,347.57L487.34,347.84L488.75,348.11L490.16,348.37L491.57,348.63L492.99,348.88L494.40,349.14L495.81,349.38L497.22,349.63L498.64,349.87L500.05,350.11L501.46,350.35L502.87,350.58L504.29,350.81L505.70,351.04L507.11,351.26L508.53,351.48L509.94,351.70L511.35,351.91L512.76,352.13L514.18,352.34L515.59,352.54L517.00,352.75L518.41,352.95L519.83,353.15L521.24,353.34L522.65,353.54L524.07,353.73L525.48,353.92L526.89,354.10L528.30,354.29L529.72,354.47L531.13,354.65L532.54,354.82L533.95,355.00L535.37,355.17L536.78,355.34L538.19,355.51L539.61,355.67L541.02,355.83L542.43,356.00L543.84,356.15L545.26,356.31L546.67,356.47L548.08,356.62L549.49,356.77L550.91,356.92L552.32,357.06L553.73,357.21L555.15,357.35L556.56,357.49L557.97,357.63L559.38,357.77L560.80,357.90L562.21,358.04L563.62,358.17L565.03,358.30L566.45,358.43L567.86,358.55L569.27,358.68L570.68,358.80L572.10,358.93L573.51,359.05L574.92,359.16L576.34,359.28L577.75,359.40L579.16,359.51L580.57,359.62L581.99,359.73L583.40,359.84L584.81,359.95L586.22,360.06L587.64,360.16L589.05,360.27L590.46,360.37L591.88,360.47L593.29,360.57L594.70,360.67L596.11,360.77L597.53,360.86L598.94,360.96L600.35,361.05L601.76,361.14L603.18,361.23L604.59,361.32L606.00,361.41L607.42,361.50L608.83,361.59L610.24,361.67L611.65,361.75L613.07,361.84L614.48,361.92L615.89,362.00L617.30,362.08L618.72,362.16L620.13,362.24L621.54,362.31L622.96,362.39L624.37,362.46L625.78,362.53L627.19,362.61L628.61,362.68L630.02,362.75L631.43,362.82L632.84,362.89L634.26,362.96L635.67,363.02L637.08,363.09L638.49,363.15L639.91,363.22L641.32,363.28L642.73,363.34L644.15,363.41L645.56,363.47L646.97,363.53L648.38,363.59L649.80,363.65L651.21,363.70L652.62,363.76L654.03,363.82L655.45,363.87L656.86,363.93L658.27,363.98L659.69,364.03L661.10,364.09L662.51,364.14L663.92,364.19L665.34,364.24L666.75,364.29L668.16,364.34L669.57,364.39L670.99,364.44L672.40,364.48" fill="none" stroke="#000000" stroke-width="2.4" stroke-linejoin="round"/>
<path d="M74.00,199.27L74.30,199.21L74.59,199.16L74.89,199.12L75.18,199.07L75.48,199.03L75.77,198.99L76.07,198.95L76.37,198.92L76.66,198.89L76.96,198.86L77.25,198.83L77.55,198.81L77.85,198.79L78.14,198.77L78.44,198.75L78.73,198.73L79.03,198.72L79.32,198.71L79.62,198.70L79.92,198.70L80.21,198.69L80.51,198.69L80.80,198.69L81.10,198.70L81.39,198.70L81.69,198.71L81.99,198.72L82.28,198.73L82.58,198.75L82.87,198.76L83.17,198.78L83.47,198.80L83.76,198.82L84.06,198.85L84.35,198.88L84.65,198.90L84.94,198.94L85.24,198.97L85.54,199.00L85.83,199.04L86.13,199.08L86.42,199.12L86.72,199.16L87.02,199.21L87.31,199.26L87.61,199.30L87.90,199.35L88.20,199.41L88.49,199.46L88.79,199.51L89.09,199.57L89.38,199.62L89.68,199.68L89.97,199.74L90.27,199.80L90.56,199.85L90.86,199.92L91.16,199.98L91.45,200.04L91.75,200.11L92.04,200.17L92.34,200.24L92.64,200.31L92.93,200.38L93.23,200.46L93.52,200.54L93.82,200.61L94.11,200.69L94.41,200.78L94.71,200.86L95.00,200.95L95.30,201.04L95.59,201.14L95.89,201.23L96.18,201.33L96.48,201.43L96.78,201.54L97.07,201.65L97.37,201.76L97.66,201.87L97.96,201.99L98.26,202.11L98.55,202.24L98.85,202.37L99.14,202.50L99.44,202.64L99.73,202.78L100.03,202.93L100.33,203.07L100.62,203.22L100.92,203.37L101.21,203.53L101.51,203.68L101.81,203.84L102.10,203.99L102.40,204.15L102.69,204.31L102.99,204.48L103.28,204.64L103.58,204.80L103.88,204.97L104.17,205.14L104.47,205.31L104.76,205.48L105.06,205.65L105.35,205.82L105.65,205.99L105.95,206.17L106.24,206.35L106.54,206.52L106.83,206.70L107.13,206.88L107.43,207.06L107.72,207.24L108.02,207.42L108.31,207.60L108.61,207.79L108.90,207.97L109.20,208.16L109.91,208.60L110.62,209.05L111.32,209.50L112.03,209.96L112.74,210.42L113.45,210.89L114.15,211.36L114.86,211.84L115.57,212.32L116.28,212.81L116.98,213.30L117.69,213.80L118.40,214.29L119.11,214.80L119.81,215.30L120.52,215.82L121.23,216.33L121.94,216.85L122.64,217.37L123.35,217.90L124.06,218.42L124.77,218.96L125.47,219.49L126.18,220.03L126.89,220.57L127.60,221.11L128.30,221.66L129.01,222.21L129.72,222.76L130.43,223.31L131.13,223.87L131.84,224.42L132.55,224.98L133.26,225.54L133.96,226.11L134.67,226.67L135.38,227.24L136.09,227.81L136.79,228.38L137.50,228.95L138.21,229.52L138.92,230.09L139.62,230.67L140.33,231.25L141.04,231.82L141.75,232.40L142.45,232.99L143.16,233.59L143.87,234.18L144.58,234.79L145.28,235.40L145.99,236.01L146.70,236.63L147.41,237.25L148.11,237.88L148.82,238.51L149.53,239.14L150.24,239.77L150.94,240.40L151.65,241.04L152.36,241.67L153.07,242.31L153.77,242.95L154.48,243.58L155.19,244.22L155.90,244.85L156.61,245.48L157.31,246.11L158.02,246.74L158.73,247.37L159.44,247.99L160.14,248.61L160.85,249.23L161.56,249.85L162.27,250.47L162.97,251.09L163.68,251.71L164.39,252.33L165.10,252.94L165.80,253.56L166.51,254.18L167.22,254.80L167.93,255.41L168.63,256.02L169.34,256.64L170.05,257.25L170.76,257.86L171.46,258.47L172.17,259.07L172.88,259.68L173.59,260.28L174.29,260.88L175.00,261.48L175.71,262.07L176.42,262.67L177.12,263.26L177.83,263.84L178.54,264.43L179.25,265.01L179.95,265.59L180.66,266.16L181.37,266.73L182.08,267.31L182.78,267.87L183.49,268.44L184.20,269.01L184.91,269.57L185.61,270.13L186.32,270.69L187.03,271.25L187.74,271.80L188.44,272.35L189.15,272.90L189.86,273.45L190.57,273.99L191.27,274.54L191.98,275.08L192.69,275.61L193.40,276.15L194.10,276.68L194.81,277.21L195.52,277.74L196.23,278.26L196.93,278.78L197.64,279.30L198.35,279.82L199.06,280.33L199.76,280.84L200.47,281.35L201.18,281.85L201.89,282.35L202.59,282.85L203.30,283.34L204.01,283.83L204.72,284.32L205.43,284.81L206.13,285.29L206.84,285.77L207.55,286.25L208.26,286.73L208.96,287.20L209.67,287.68L210.38,288.15L211.09,288.62L211.79,289.09L212.50,289.56L213.21,290.03L213.92,290.49L214.62,290.96L215.33,291.42L216.04,291.89L216.75,292.35L217.45,292.81L218.16,293.28L218.87,293.74L219.58,294.20L220.28,294.66L220.99,295.11L221.70,295.57L222.41,296.03L223.11,296.48L223.82,296.93L224.53,297.38L225.24,297.83L225.94,298.28L226.65,298.73L227.36,299.18L228.07,299.62L228.77,300.06L229.48,300.51L230.19,300.95L230.90,301.38L231.60,301.82L232.31,302.25L233.02,302.69L233.73,303.12L234.43,303.55L235.14,303.97L235.85,304.40L236.56,304.82L237.26,305.24L237.97,305.66L238.68,306.08L239.39,306.49L240.09,306.90L240.80,307.31L241.51,307.72L242.22,308.13L242.92,308.53L243.63,308.93L244.34,309.33L245.05,309.72L245.75,310.12L246.46,310.51L247.17,310.89L247.88,311.28L248.58,311.66L249.29,312.04L250.00,312.42L251.41,313.16L252.83,313.90L254.24,314.64L255.65,315.37L257.06,316.09L258.48,316.81L259.89,317.52L261.30,318.22L262.71,318.92L264.13,319.61L265.54,320.29L266.95,320.96L268.37,321.63L269.78,322.29L271.19,322.94L272.60,323.59L274.02,324.23L275.43,324.86L276.84,325.48L278.25,326.09L279.67,326.69L281.08,327.29L282.49,327.87L283.91,328.45L285.32,329.02L286.73,329.58L288.14,330.13L289.56,330.67L290.97,331.20L292.38,331.73L293.79,332.24L295.21,332.74L296.62,333.23L298.03,333.71L299.44,334.18L300.86,334.64L302.27,335.10L303.68,335.55L305.10,335.99L306.51,336.43L307.92,336.86L309.33,337.28L310.75,337.70L312.16,338.12L313.57,338.53L314.98,338.93L316.40,339.33L317.81,339.73L319.22,340.12L320.64,340.50L322.05,340.88L323.46,341.25L324.87,341.62L326.29,341.99L327.70,342.35L329.11,342.70L330.52,343.05L331.94,343.40L333.35,343.74L334.76,344.08L336.18,344.41L337.59,344.74L339.00,345.07L340.41,345.39L341.83,345.71L343.24,346.02L344.65,346.33L346.06,346.63L347.48,346.94L348.89,347.23L350.30,347.53L351.72,347.82L353.13,348.10L354.54,348.39L355.95,348.67L357.37,348.94L358.78,349.21L360.19,349.48L361.60,349.74L363.02,350.00L364.43,350.26L365.84,350.51L367.25,350.76L368.67,351.01L370.08,351.25L371.49,351.49L372.91,351.73L374.32,351.96L375.73,352.19L377.14,352.42L378.56,352.64L379.97,352.86L381.38,353.08L382.79,353.29L384.21,353.50L385.62,353.71L387.03,353.92L388.45,354.12L389.86,354.32L391.27,354.52L392.68,354.71L394.10,354.90L395.51,355.09L396.92,355.28L398.33,355.46L399.75,355.64L401.16,355.82L402.57,356.00L403.99,356.17L405.40,356.34L406.81,356.51L408.22,356.67L409.64,356.84L411.05,357.00L412.46,357.15L413.87,357.31L415.29,357.46L416.70,357.61L418.11,357.75L419.53,357.90L420.94,358.04L422.35,358.18L423.76,358.31L425.18,358.45L426.59,358.58L428.00,358.71L429.41,358.83L430.83,358.96L432.24,359.08L433.65,359.20L435.06,359.32L436.48,359.44L437.89,359.55L439.30,359.66L440.72,359.77L442.13,359.88L443.54,359.99L444.95,360.10L446.37,360.20L447.78,360.30L449.19,360.40L450.60,360.50L452.02,360.60L453.43,360.70L454.84,360.79L456.26,360.89L457.67,360.98L459.08,361.07L460.49,361.16L461.91,361.25L463.32,361.34L464.73,361.43L466.14,361.51L467.56,361.60L468.97,361.68L470.38,361.77L471.80,361.85L473.21,361.93L474.62,362.01L476.03,362.09L477.45,362.17L478.86,362.24L480.27,362.32L481.68,362.39L483.10,362.46L484.51,362.54L485.92,362.61L487.34,362.67L488.75,362.74L490.16,362.81L491.57,362.88L492.99,362.94L494.40,363.00L495.81,363.07L497.22,363.13L498.64,363.19L500.05,363.25L501.46,363.31L502.87,363.37L504.29,363.43L505.70,363.49L507.11,363.54L508.53,363.60L509.94,363.65L511.35,363.71L512.76,363.76L514.18,363.81L515.59,363.87L517.00,363.92L518.41,363.97L519.83,364.02L521.24,364.07L522.65,364.12L524.07,364.17L525.48,364.22L526.89,364.27L528.30,364.31L529.72,364.36L531.13,364.41L532.54,364.45L533.95,364.50L535.37,364.54L536.78,364.59L538.19,364.63L539.61,364.67L541.02,364.72L542.43,364.76L543.84,364.80L545.26,364.84L546.67,364.88L548.08,364.92L549.49,364.96L550.91,364.99L552.32,365.03L553.73,365.07L555.15,365.11L556.56,365.14L557.97,365.18L559.38,365.21L560.80,365.25L562.21,365.28L563.62,365.31L565.03,365.35L566.45,365.38L567.86,365.41L569.27,365.44L570.68,365.48L572.10,365.51L573.51,365.54L574.92,365.57L576.34,365.60L577.75,365.63L579.16,365.66L580.57,365.69L581.99,365.71L583.40,365.74L584.81,365.77L586.22,365.80L587.64,365.83L589.05,365.85L590.46,365.88L591.88,365.91L593.29,365.93L594.70,365.96L596.11,365.98L597.53,366.01L598.94,366.04L600.35,366.06L601.76,366.09L603.18,366.11L604.59,366.14L606.00,366.16L607.42,366.18L608.83,366.21L610.24,366.23L611.65,366.26L613.07,366.28L614.48,366.30L615.89,366.32L617.30,366.35L618.72,366.37L620.13,366.39L621.54,366.41L622.96,366.43L624.37,366.45L625.78,366.47L627.19,366.49L628.61,366.51L630.02,366.53L631.43,366.55L632.84,366.57L634.26,366.59L635.67,366.61L637.08,366.63L638.49,366.65L639.91,366.67L641.32,366.68L642.73,366.70L644.15,366.72L645.56,366.74L646.97,366.75L648.38,366.77L649.80,366.79L651.21,366.81L652.62,366.82L654.03,366.84L655.45,366.86L656.86,366.87L658.27,366.89L659.69,366.90L661.10,366.92L662.51,366.94L663.92,366.95L665.34,366.97L666.75,366.98L668.16,367.00L669.57,367.02L670.99,367.03L672.40,367.05" fill="none" stroke="#ff0000" stroke-width="2.4" stroke-dasharray="8.8 3.6" stroke-linejoin="round"/>
<path d="M74.00,199.67L74.30,199.63L74.59,199.60L74.89,199.56L75.18,199.53L75.48,199.50L75.77,199.47L76.07,199.45L76.37,199.43L76.66,199.41L76.96,199.39L77.25,199.37L77.55,199.36L77.85,199.35L78.14,199.34L78.44,199.34L78.73,199.33L79.03,199.33L79.32,199.33L79.62,199.34L79.92,199.34L80.21,199.35L80.51,199.36L80.80,199.37L81.10,199.39L81.39,199.41L81.69,199.43L81.99,199.45L82.28,199.47L82.58,199.50L82.87,199.52L83.17,199.55L83.47,199.59L83.76,199.62L84.06,199.65L84.35,199.69L84.65,199.73L84.94,199.78L85.24,199.82L85.54,199.87L85.83,199.91L86.13,199.96L86.42,200.02L86.72,200.07L87.02,200.12L87.31,200.18L87.61,200.24L87.90,200.30L88.20,200.37L88.49,200.43L88.79,200.50L89.09,200.56L89.38,200.63L89.68,200.70L89.97,200.77L90.27,200.84L90.56,200.91L90.86,200.99L91.16,201.06L91.45,201.14L91.75,201.22L92.04,201.30L92.34,201.38L92.64,201.46L92.93,201.55L93.23,201.64L93.52,201.73L93.82,201.82L94.11,201.91L94.41,202.01L94.71,202.10L95.00,202.20L95.30,202.30L95.59,202.41L95.89,202.52L96.18,202.62L96.48,202.74L96.78,202.85L97.07,202.97L97.37,203.09L97.66,203.21L97.96,203.33L98.26,203.46L98.55,203.59L98.85,203.72L99.14,203.86L99.44,204.00L99.73,204.14L100.03,204.29L100.33,204.43L100.62,204.58L100.92,204.73L101.21,204.89L101.51,205.04L101.81,205.19L102.10,205.35L102.40,205.51L102.69,205.67L102.99,205.83L103.28,205.99L103.58,206.16L103.88,206.32L104.17,206.49L104.47,206.65L104.76,206.82L105.06,206.99L105.35,207.16L105.65,207.34L105.95,207.51L106.24,207.68L106.54,207.86L106.83,208.04L107.13,208.21L107.43,208.39L107.72,208.57L108.02,208.75L108.31,208.94L108.61,209.12L108.90,209.30L109.20,209.49L109.91,209.93L110.62,210.38L111.32,210.83L112.03,211.29L112.74,211.75L113.45,212.22L114.15,212.69L114.86,213.17L115.57,213.65L116.28,214.14L116.98,214.63L117.69,215.13L118.40,215.63L119.11,216.13L119.81,216.64L120.52,217.15L121.23,217.67L121.94,218.18L122.64,218.71L123.35,219.23L124.06,219.76L124.77,220.30L125.47,220.83L126.18,221.37L126.89,221.91L127.60,222.46L128.30,223.00L129.01,223.55L129.72,224.11L130.43,224.66L131.13,225.22L131.84,225.78L132.55,226.34L133.26,226.90L133.96,227.46L134.67,228.03L135.38,228.60L136.09,229.16L136.79,229.74L137.50,230.31L138.21,230.88L138.92,231.45L139.62,232.03L140.33,232.61L141.04,233.18L141.75,233.76L142.45,234.35L143.16,234.94L143.87,235.53L144.58,236.12L145.28,236.72L145.99,237.33L146.70,237.93L147.41,238.54L148.11,239.15L148.82,239.76L149.53,240.37L150.24,240.99L150.94,241.60L151.65,242.22L152.36,242.83L153.07,243.45L153.77,244.07L154.48,244.68L155.19,245.30L155.90,245.91L156.61,246.52L157.31,247.14L158.02,247.74L158.73,248.35L159.44,248.96L160.14,249.56L160.85,250.16L161.56,250.76L162.27,251.37L162.97,251.97L163.68,252.57L164.39,253.17L165.10,253.77L165.80,254.37L166.51,254.96L167.22,255.56L167.93,256.16L168.63,256.75L169.34,257.35L170.05,257.94L170.76,258.53L171.46,259.12L172.17,259.70L172.88,260.29L173.59,260.87L174.29,261.46L175.00,262.04L175.71,262.61L176.42,263.19L177.12,263.76L177.83,264.33L178.54,264.90L179.25,265.47L179.95,266.03L180.66,266.59L181.37,267.15L182.08,267.71L182.78,268.26L183.49,268.81L184.20,269.36L184.91,269.91L185.61,270.46L186.32,271.01L187.03,271.55L187.74,272.09L188.44,272.63L189.15,273.17L189.86,273.70L190.57,274.23L191.27,274.77L191.98,275.29L192.69,275.82L193.40,276.34L194.10,276.86L194.81,277.38L195.52,277.90L196.23,278.41L196.93,278.92L197.64,279.43L198.35,279.94L199.06,280.44L199.76,280.94L200.47,281.44L201.18,281.94L201.89,282.43L202.59,282.92L203.30,283.41L204.01,283.89L204.72,284.38L205.43,284.86L206.13,285.33L206.84,285.81L207.55,286.28L208.26,286.76L208.96,287.23L209.67,287.69L210.38,288.16L211.09,288.63L211.79,289.09L212.50,289.55L213.21,290.01L213.92,290.47L214.62,290.93L215.33,291.39L216.04,291.84L216.75,292.30L217.45,292.75L218.16,293.20L218.87,293.65L219.58,294.10L220.28,294.55L220.99,295.00L221.70,295.44L222.41,295.89L223.11,296.33L223.82,296.77L224.53,297.21L225.24,297.65L225.94,298.08L226.65,298.52L227.36,298.95L228.07,299.38L228.77,299.81L229.48,300.24L230.19,300.66L230.90,301.09L231.60,301.51L232.31,301.93L233.02,302.35L233.73,302.77L234.43,303.18L235.14,303.60L235.85,304.01L236.56,304.42L237.26,304.82L237.97,305.23L238.68,305.63L239.39,306.03L240.09,306.43L240.80,306.83L241.51,307.22L242.22,307.61L242.92,308.00L243.63,308.39L244.34,308.77L245.05,309.16L245.75,309.54L246.46,309.92L247.17,310.29L247.88,310.67L248.58,311.04L249.29,311.41L250.00,311.77L251.41,312.50L252.83,313.22L254.24,313.93L255.65,314.64L257.06,315.34L258.48,316.03L259.89,316.72L261.30,317.40L262.71,318.07L264.13,318.73L265.54,319.39L266.95,320.05L268.37,320.69L269.78,321.33L271.19,321.96L272.60,322.58L274.02,323.20L275.43,323.81L276.84,324.41L278.25,325.00L279.67,325.58L281.08,326.16L282.49,326.73L283.91,327.29L285.32,327.85L286.73,328.39L288.14,328.93L289.56,329.46L290.97,329.98L292.38,330.49L293.79,330.99L295.21,331.49L296.62,331.98L298.03,332.45L299.44,332.92L300.86,333.38L302.27,333.84L303.68,334.29L305.10,334.73L306.51,335.17L307.92,335.60L309.33,336.03L310.75,336.45L312.16,336.87L313.57,337.28L314.98,337.68L316.40,338.09L317.81,338.48L319.22,338.87L320.64,339.26L322.05,339.64L323.46,340.02L324.87,340.39L326.29,340.75L327.70,341.12L329.11,341.48L330.52,341.83L331.94,342.18L333.35,342.52L334.76,342.86L336.18,343.20L337.59,343.53L339.00,343.86L340.41,344.18L341.83,344.50L343.24,344.82L344.65,345.13L346.06,345.44L347.48,345.74L348.89,346.04L350.30,346.34L351.72,346.63L353.13,346.92L354.54,347.21L355.95,347.49L357.37,347.77L358.78,348.04L360.19,348.31L361.60,348.58L363.02,348.84L364.43,349.10L365.84,349.36L367.25,349.61L368.67,349.86L370.08,350.11L371.49,350.35L372.91,350.59L374.32,350.83L375.73,351.06L377.14,351.29L378.56,351.52L379.97,351.75L381.38,351.97L382.79,352.19L384.21,352.40L385.62,352.61L387.03,352.82L388.45,353.03L389.86,353.24L391.27,353.44L392.68,353.64L394.10,353.83L395.51,354.03L396.92,354.22L398.33,354.41L399.75,354.59L401.16,354.77L402.57,354.95L403.99,355.13L405.40,355.31L406.81,355.48L408.22,355.65L409.64,355.82L411.05,355.99L412.46,356.15L413.87,356.31L415.29,356.47L416.70,356.62L418.11,356.78L419.53,356.93L420.94,357.08L422.35,357.22L423.76,357.37L425.18,357.51L426.59,357.65L428.00,357.78L429.41,357.92L430.83,358.05L432.24,358.18L433.65,358.31L435.06,358.44L436.48,358.56L437.89,358.69L439.30,358.81L440.72,358.93L442.13,359.04L443.54,359.16L444.95,359.27L446.37,359.39L447.78,359.50L449.19,359.61L450.60,359.72L452.02,359.82L453.43,359.93L454.84,360.03L456.26,360.13L457.67,360.23L459.08,360.33L460.49,360.43L461.91,360.53L463.32,360.63L464.73,360.72L466.14,360.81L467.56,360.91L468.97,361.00L470.38,361.09L471.80,361.18L473.21,361.27L474.62,361.35L476.03,361.44L477.45,361.52L478.86,361.61L480.27,361.69L481.68,361.77L483.10,361.85L484.51,361.93L485.92,362.00L487.34,362.08L488.75,362.16L490.16,362.23L491.57,362.30L492.99,362.38L494.40,362.45L495.81,362.52L497.22,362.59L498.64,362.65L500.05,362.72L501.46,362.79L502.87,362.85L504.29,362.92L505.70,362.98L507.11,363.04L508.53,363.11L509.94,363.17L511.35,363.23L512.76,363.29L514.18,363.35L515.59,363.40L517.00,363.46L518.41,363.52L519.83,363.57L521.24,363.63L522.65,363.69L524.07,363.74L525.48,363.79L526.89,363.85L528.30,363.90L529.72,363.95L531.13,364.00L532.54,364.05L533.95,364.10L535.37,364.15L536.78,364.20L538.19,364.25L539.61,364.30L541.02,364.34L542.43,364.39L543.84,364.44L545.26,364.48L546.67,364.53L548.08,364.57L549.49,364.61L550.91,364.65L552.32,364.70L553.73,364.74L555.15,364.78L556.56,364.82L557.97,364.86L559.38,364.90L560.80,364.94L562.21,364.97L563.62,365.01L565.03,365.05L566.45,365.09L567.86,365.12L569.27,365.16L570.68,365.19L572.10,365.23L573.51,365.26L574.92,365.30L576.34,365.33L577.75,365.36L579.16,365.40L580.57,365.43L581.99,365.46L583.40,365.49L584.81,365.52L586.22,365.55L587.64,365.58L589.05,365.61L590.46,365.64L591.88,365.67L593.29,365.70L594.70,365.73L596.11,365.76L597.53,365.79L598.94,365.82L600.35,365.84L601.76,365.87L603.18,365.90L604.59,365.93L606.00,365.95L607.42,365.98L608.83,366.01L610.24,366.03L611.65,366.06L613.07,366.08L614.48,366.11L615.89,366.13L617.30,366.16L618.72,366.18L620.13,366.20L621.54,366.23L622.96,366.25L624.37,366.27L625.78,366.30L627.19,366.32L628.61,366.34L630.02,366.36L631.43,366.38L632.84,366.40L634.26,366.42L635.67,366.44L637.08,366.46L638.49,366.48L639.91,366.50L641.32,366.52L642.73,366.54L644.15,366.56L645.56,366.58L646.97,366.60L648.38,366.62L649.80,366.64L651.21,366.66L652.62,366.67L654.03,366.69L655.45,366.71L656.86,366.73L658.27,366.74L659.69,366.76L661.10,366.78L662.51,366.80L663.92,366.81L665.34,366.83L666.75,366.85L668.16,366.86L669.57,366.88L670.99,366.90L672.40,366.91" fill="none" stroke="#ff00ff" stroke-width="2.4" stroke-dasharray="8.8 3.6" stroke-linejoin="round"/>
<path d="M74.00,200.07L74.30,200.04L74.59,200.02L74.89,199.99L75.18,199.97L75.48,199.95L75.77,199.94L76.07,199.93L76.37,199.92L76.66,199.91L76.96,199.90L77.25,199.90L77.55,199.90L77.85,199.90L78.14,199.90L78.44,199.91L78.73,199.92L79.03,199.93L79.32,199.94L79.62,199.95L79.92,199.97L80.21,199.99L80.51,200.01L80.80,200.04L81.10,200.06L81.39,200.09L81.69,200.12L81.99,200.15L82.28,200.19L82.58,200.22L82.87,200.26L83.17,200.30L83.47,200.35L83.76,200.39L84.06,200.44L84.35,200.49L84.65,200.54L84.94,200.59L85.24,200.64L85.54,200.70L85.83,200.76L86.13,200.82L86.42,200.88L86.72,200.95L87.02,201.01L87.31,201.08L87.61,201.15L87.90,201.22L88.20,201.30L88.49,201.37L88.79,201.45L89.09,201.53L89.38,201.61L89.68,201.69L89.97,201.77L90.27,201.85L90.56,201.94L90.86,202.03L91.16,202.11L91.45,202.20L91.75,202.30L92.04,202.39L92.34,202.48L92.64,202.58L92.93,202.68L93.23,202.78L93.52,202.88L93.82,202.98L94.11,203.09L94.41,203.20L94.71,203.31L95.00,203.42L95.30,203.53L95.59,203.64L95.89,203.76L96.18,203.88L96.48,204.00L96.78,204.12L97.07,204.25L97.37,204.37L97.66,204.50L97.96,204.63L98.26,204.76L98.55,204.90L98.85,205.04L99.14,205.18L99.44,205.32L99.73,205.46L100.03,205.61L100.33,205.75L100.62,205.90L100.92,206.05L101.21,206.20L101.51,206.36L101.81,206.51L102.10,206.67L102.40,206.83L102.69,206.98L102.99,207.14L103.28,207.31L103.58,207.47L103.88,207.63L104.17,207.80L104.47,207.96L104.76,208.13L105.06,208.30L105.35,208.47L105.65,208.64L105.95,208.81L106.24,208.99L106.54,209.16L106.83,209.33L107.13,209.51L107.43,209.69L107.72,209.87L108.02,210.05L108.31,210.23L108.61,210.41L108.90,210.59L109.20,210.77L109.91,211.22L110.62,211.66L111.32,212.12L112.03,212.57L112.74,213.04L113.45,213.51L114.15,213.98L114.86,214.46L115.57,214.94L116.28,215.43L116.98,215.92L117.69,216.42L118.40,216.92L119.11,217.42L119.81,217.93L120.52,218.44L121.23,218.96L121.94,219.48L122.64,220.01L123.35,220.53L124.06,221.06L124.77,221.60L125.47,222.13L126.18,222.67L126.89,223.22L127.60,223.76L128.30,224.31L129.01,224.86L129.72,225.42L130.43,225.97L131.13,226.53L131.84,227.09L132.55,227.65L133.26,228.21L133.96,228.78L134.67,229.34L135.38,229.91L136.09,230.48L136.79,231.05L137.50,231.63L138.21,232.20L138.92,232.77L139.62,233.35L140.33,233.93L141.04,234.50L141.75,235.08L142.45,235.66L143.16,236.25L143.87,236.83L144.58,237.42L145.28,238.01L145.99,238.60L146.70,239.19L147.41,239.79L148.11,240.38L148.82,240.98L149.53,241.57L150.24,242.17L150.94,242.77L151.65,243.36L152.36,243.96L153.07,244.56L153.77,245.15L154.48,245.75L155.19,246.34L155.90,246.94L156.61,247.53L157.31,248.13L158.02,248.72L158.73,249.31L159.44,249.89L160.14,250.48L160.85,251.07L161.56,251.65L162.27,252.24L162.97,252.82L163.68,253.40L164.39,253.99L165.10,254.57L165.80,255.15L166.51,255.73L167.22,256.30L167.93,256.88L168.63,257.46L169.34,258.03L170.05,258.61L170.76,259.18L171.46,259.75L172.17,260.32L172.88,260.88L173.59,261.45L174.29,262.01L175.00,262.58L175.71,263.14L176.42,263.70L177.12,264.25L177.83,264.81L178.54,265.36L179.25,265.91L179.95,266.46L180.66,267.01L181.37,267.55L182.08,268.09L182.78,268.63L183.49,269.17L184.20,269.71L184.91,270.25L185.61,270.78L186.32,271.31L187.03,271.85L187.74,272.37L188.44,272.90L189.15,273.42L189.86,273.95L190.57,274.47L191.27,274.99L191.98,275.50L192.69,276.02L193.40,276.53L194.10,277.04L194.81,277.55L195.52,278.05L196.23,278.56L196.93,279.06L197.64,279.56L198.35,280.06L199.06,280.55L199.76,281.05L200.47,281.54L201.18,282.02L201.89,282.51L202.59,282.99L203.30,283.47L204.01,283.95L204.72,284.43L205.43,284.91L206.13,285.38L206.84,285.85L207.55,286.32L208.26,286.78L208.96,287.25L209.67,287.71L210.38,288.17L211.09,288.63L211.79,289.09L212.50,289.54L213.21,290.00L213.92,290.45L214.62,290.90L215.33,291.35L216.04,291.80L216.75,292.24L217.45,292.69L218.16,293.13L218.87,293.57L219.58,294.01L220.28,294.45L220.99,294.88L221.70,295.32L222.41,295.75L223.11,296.18L223.82,296.61L224.53,297.04L225.24,297.46L225.94,297.89L226.65,298.31L227.36,298.73L228.07,299.15L228.77,299.56L229.48,299.98L230.19,300.39L230.90,300.80L231.60,301.21L232.31,301.62L233.02,302.02L233.73,302.43L234.43,302.83L235.14,303.23L235.85,303.63L236.56,304.02L237.26,304.41L237.97,304.81L238.68,305.19L239.39,305.58L240.09,305.97L240.80,306.35L241.51,306.73L242.22,307.11L242.92,307.49L243.63,307.86L244.34,308.24L245.05,308.61L245.75,308.98L246.46,309.34L247.17,309.71L247.88,310.07L248.58,310.43L249.29,310.79L250.00,311.14L251.41,311.85L252.83,312.55L254.24,313.24L255.65,313.92L257.06,314.60L258.48,315.27L259.89,315.94L261.30,316.60L262.71,317.25L264.13,317.89L265.54,318.53L266.95,319.16L268.37,319.78L269.78,320.39L271.19,321.00L272.60,321.60L274.02,322.20L275.43,322.79L276.84,323.37L278.25,323.94L279.67,324.51L281.08,325.07L282.49,325.62L283.91,326.17L285.32,326.71L286.73,327.24L288.14,327.76L289.56,328.28L290.97,328.79L292.38,329.29L293.79,329.79L295.21,330.28L296.62,330.76L298.03,331.24L299.44,331.70L300.86,332.16L302.27,332.62L303.68,333.07L305.10,333.51L306.51,333.95L307.92,334.38L309.33,334.81L310.75,335.23L312.16,335.65L313.57,336.07L314.98,336.47L316.40,336.88L317.81,337.27L319.22,337.67L320.64,338.05L322.05,338.44L323.46,338.81L324.87,339.19L326.29,339.56L327.70,339.92L329.11,340.28L330.52,340.64L331.94,340.99L333.35,341.34L334.76,341.68L336.18,342.02L337.59,342.35L339.00,342.68L340.41,343.01L341.83,343.33L343.24,343.65L344.65,343.96L346.06,344.27L347.48,344.58L348.89,344.88L350.30,345.18L351.72,345.48L353.13,345.77L354.54,346.06L355.95,346.34L357.37,346.62L358.78,346.90L360.19,347.18L361.60,347.45L363.02,347.71L364.43,347.98L365.84,348.24L367.25,348.49L368.67,348.75L370.08,349.00L371.49,349.24L372.91,349.49L374.32,349.73L375.73,349.97L377.14,350.20L378.56,350.43L379.97,350.66L381.38,350.89L382.79,351.11L384.21,351.33L385.62,351.55L387.03,351.76L388.45,351.97L389.86,352.18L391.27,352.39L392.68,352.59L394.10,352.79L395.51,352.99L396.92,353.19L398.33,353.38L399.75,353.57L401.16,353.76L402.57,353.95L403.99,354.13L405.40,354.31L406.81,354.49L408.22,354.66L409.64,354.84L411.05,355.01L412.46,355.18L413.87,355.35L415.29,355.51L416.70,355.67L418.11,355.83L419.53,355.99L420.94,356.14L422.35,356.30L423.76,356.45L425.18,356.60L426.59,356.74L428.00,356.89L429.41,357.03L430.83,357.17L432.24,357.31L433.65,357.45L435.06,357.58L436.48,357.71L437.89,357.85L439.30,357.97L440.72,358.10L442.13,358.23L443.54,358.35L444.95,358.48L446.37,358.60L447.78,358.72L449.19,358.83L450.60,358.95L452.02,359.06L453.43,359.18L454.84,359.29L456.26,359.40L457.67,359.51L459.08,359.62L460.49,359.72L461.91,359.83L463.32,359.93L464.73,360.03L466.14,360.14L467.56,360.23L468.97,360.33L470.38,360.43L471.80,360.53L473.21,360.62L474.62,360.72L476.03,360.81L477.45,360.90L478.86,360.99L480.27,361.08L481.68,361.17L483.10,361.25L484.51,361.34L485.92,361.42L487.34,361.51L488.75,361.59L490.16,361.67L491.57,361.75L492.99,361.83L494.40,361.90L495.81,361.98L497.22,362.06L498.64,362.13L500.05,362.20L501.46,362.28L502.87,362.35L504.29,362.42L505.70,362.49L507.11,362.56L508.53,362.63L509.94,362.69L511.35,362.76L512.76,362.83L514.18,362.89L515.59,362.96L517.00,363.02L518.41,363.08L519.83,363.14L521.24,363.20L522.65,363.26L524.07,363.32L525.48,363.38L526.89,363.44L528.30,363.50L529.72,363.55L531.13,363.61L532.54,363.67L533.95,363.72L535.37,363.78L536.78,363.83L538.19,363.88L539.61,363.93L541.02,363.98L542.43,364.03L543.84,364.08L545.26,364.13L546.67,364.18L548.08,364.23L549.49,364.28L550.91,364.32L552.32,364.37L553.73,364.42L555.15,364.46L556.56,364.50L557.97,364.55L559.38,364.59L560.80,364.63L562.21,364.68L563.62,364.72L565.03,364.76L566.45,364.80L567.86,364.84L569.27,364.88L570.68,364.92L572.10,364.96L573.51,364.99L574.92,365.03L576.34,365.07L577.75,365.11L579.16,365.14L580.57,365.18L581.99,365.21L583.40,365.25L584.81,365.28L586.22,365.32L587.64,365.35L589.05,365.38L590.46,365.42L591.88,365.45L593.29,365.48L594.70,365.51L596.11,365.54L597.53,365.57L598.94,365.60L600.35,365.63L601.76,365.66L603.18,365.69L604.59,365.72L606.00,365.75L607.42,365.78L608.83,365.81L610.24,365.84L611.65,365.86L613.07,365.89L614.48,365.92L615.89,365.95L617.30,365.97L618.72,366.00L620.13,366.02L621.54,366.05L622.96,366.07L624.37,366.10L625.78,366.12L627.19,366.15L628.61,366.17L630.02,366.19L631.43,366.22L632.84,366.24L634.26,366.26L635.67,366.28L637.08,366.31L638.49,366.33L639.91,366.35L641.32,366.37L642.73,366.39L644.15,366.41L645.56,366.43L646.97,366.45L648.38,366.47L649.80,366.49L651.21,366.51L652.62,366.53L654.03,366.55L655.45,366.57L656.86,366.59L658.27,366.61L659.69,366.62L661.10,366.64L662.51,366.66L663.92,366.68L665.34,366.69L666.75,366.71L668.16,366.73L669.57,366.75L670.99,366.76L672.40,366.78" fill="none" stroke="#0000ff" stroke-width="2.4" stroke-dasharray="8.8 3.6" stroke-linejoin="round"/>
<path d="M74.00,200.47L74.30,200.45L74.59,200.44L74.89,200.42L75.18,200.42L75.48,200.41L75.77,200.41L76.07,200.41L76.37,200.41L76.66,200.41L76.96,200.42L77.25,200.42L77.55,200.43L77.85,200.45L78.14,200.46L78.44,200.48L78.73,200.50L79.03,200.52L79.32,200.54L79.62,200.57L79.92,200.60L80.21,200.63L80.51,200.66L80.80,200.70L81.10,200.73L81.39,200.77L81.69,200.82L81.99,200.86L82.28,200.90L82.58,200.95L82.87,201.00L83.17,201.05L83.47,201.11L83.76,201.16L84.06,201.22L84.35,201.28L84.65,201.34L84.94,201.40L85.24,201.47L85.54,201.54L85.83,201.61L86.13,201.68L86.42,201.75L86.72,201.83L87.02,201.90L87.31,201.98L87.61,202.06L87.90,202.14L88.20,202.23L88.49,202.31L88.79,202.40L89.09,202.49L89.38,202.58L89.68,202.68L89.97,202.77L90.27,202.87L90.56,202.96L90.86,203.06L91.16,203.17L91.45,203.27L91.75,203.37L92.04,203.48L92.34,203.59L92.64,203.70L92.93,203.81L93.23,203.92L93.52,204.04L93.82,204.15L94.11,204.27L94.41,204.39L94.71,204.51L95.00,204.63L95.30,204.75L95.59,204.88L95.89,205.01L96.18,205.13L96.48,205.26L96.78,205.39L97.07,205.53L97.37,205.66L97.66,205.79L97.96,205.93L98.26,206.07L98.55,206.21L98.85,206.35L99.14,206.49L99.44,206.63L99.73,206.78L100.03,206.93L100.33,207.07L100.62,207.22L100.92,207.37L101.21,207.52L101.51,207.68L101.81,207.83L102.10,207.99L102.40,208.14L102.69,208.30L102.99,208.46L103.28,208.62L103.58,208.78L103.88,208.94L104.17,209.11L104.47,209.27L104.76,209.44L105.06,209.60L105.35,209.77L105.65,209.94L105.95,210.11L106.24,210.29L106.54,210.46L106.83,210.63L107.13,210.81L107.43,210.98L107.72,211.16L108.02,211.34L108.31,211.52L108.61,211.70L108.90,211.88L109.20,212.06L109.91,212.51L110.62,212.95L111.32,213.40L112.03,213.86L112.74,214.33L113.45,214.79L114.15,215.27L114.86,215.75L115.57,216.23L116.28,216.72L116.98,217.21L117.69,217.71L118.40,218.21L119.11,218.72L119.81,219.23L120.52,219.74L121.23,220.26L121.94,220.78L122.64,221.30L123.35,221.83L124.06,222.36L124.77,222.90L125.47,223.44L126.18,223.98L126.89,224.52L127.60,225.07L128.30,225.62L129.01,226.17L129.72,226.72L130.43,227.28L131.13,227.84L131.84,228.40L132.55,228.96L133.26,229.53L133.96,230.09L134.67,230.66L135.38,231.23L136.09,231.80L136.79,232.37L137.50,232.94L138.21,233.52L138.92,234.09L139.62,234.67L140.33,235.25L141.04,235.82L141.75,236.40L142.45,236.98L143.16,237.56L143.87,238.14L144.58,238.72L145.28,239.29L145.99,239.87L146.70,240.45L147.41,241.03L148.11,241.61L148.82,242.19L149.53,242.77L150.24,243.35L150.94,243.93L151.65,244.51L152.36,245.09L153.07,245.66L153.77,246.24L154.48,246.82L155.19,247.39L155.90,247.97L156.61,248.54L157.31,249.12L158.02,249.69L158.73,250.26L159.44,250.83L160.14,251.40L160.85,251.97L161.56,252.54L162.27,253.11L162.97,253.67L163.68,254.24L164.39,254.80L165.10,255.37L165.80,255.93L166.51,256.49L167.22,257.05L167.93,257.61L168.63,258.16L169.34,258.72L170.05,259.27L170.76,259.83L171.46,260.38L172.17,260.93L172.88,261.48L173.59,262.03L174.29,262.57L175.00,263.12L175.71,263.66L176.42,264.20L177.12,264.74L177.83,265.28L178.54,265.82L179.25,266.35L179.95,266.89L180.66,267.42L181.37,267.95L182.08,268.48L182.78,269.01L183.49,269.54L184.20,270.06L184.91,270.58L185.61,271.10L186.32,271.62L187.03,272.14L187.74,272.66L188.44,273.17L189.15,273.68L189.86,274.19L190.57,274.70L191.27,275.21L191.98,275.71L192.69,276.22L193.40,276.72L194.10,277.22L194.81,277.72L195.52,278.21L196.23,278.71L196.93,279.20L197.64,279.69L198.35,280.18L199.06,280.66L199.76,281.15L200.47,281.63L201.18,282.11L201.89,282.59L202.59,283.07L203.30,283.54L204.01,284.01L204.72,284.48L205.43,284.95L206.13,285.42L206.84,285.89L207.55,286.35L208.26,286.81L208.96,287.27L209.67,287.73L210.38,288.18L211.09,288.64L211.79,289.09L212.50,289.54L213.21,289.98L213.92,290.43L214.62,290.87L215.33,291.31L216.04,291.75L216.75,292.19L217.45,292.62L218.16,293.06L218.87,293.49L219.58,293.92L220.28,294.35L220.99,294.77L221.70,295.19L222.41,295.62L223.11,296.04L223.82,296.45L224.53,296.87L225.24,297.28L225.94,297.69L226.65,298.10L227.36,298.51L228.07,298.91L228.77,299.32L229.48,299.72L230.19,300.12L230.90,300.52L231.60,300.91L232.31,301.31L233.02,301.70L233.73,302.09L234.43,302.47L235.14,302.86L235.85,303.24L236.56,303.63L237.26,304.01L237.97,304.38L238.68,304.76L239.39,305.13L240.09,305.51L240.80,305.88L241.51,306.24L242.22,306.61L242.92,306.98L243.63,307.34L244.34,307.70L245.05,308.06L245.75,308.41L246.46,308.77L247.17,309.12L247.88,309.47L248.58,309.82L249.29,310.17L250.00,310.52L251.41,311.20L252.83,311.88L254.24,312.55L255.65,313.21L257.06,313.87L258.48,314.52L259.89,315.16L261.30,315.80L262.71,316.42L264.13,317.04L265.54,317.66L266.95,318.27L268.37,318.87L269.78,319.46L271.19,320.05L272.60,320.63L274.02,321.20L275.43,321.77L276.84,322.33L278.25,322.89L279.67,323.43L281.08,323.98L282.49,324.51L283.91,325.04L285.32,325.57L286.73,326.08L288.14,326.60L289.56,327.10L290.97,327.60L292.38,328.10L293.79,328.58L295.21,329.07L296.62,329.54L298.03,330.02L299.44,330.48L300.86,330.94L302.27,331.40L303.68,331.85L305.10,332.29L306.51,332.73L307.92,333.17L309.33,333.59L310.75,334.02L312.16,334.44L313.57,334.85L314.98,335.26L316.40,335.66L317.81,336.06L319.22,336.46L320.64,336.85L322.05,337.23L323.46,337.61L324.87,337.99L326.29,338.36L327.70,338.73L329.11,339.09L330.52,339.45L331.94,339.80L333.35,340.15L334.76,340.50L336.18,340.84L337.59,341.17L339.00,341.51L340.41,341.84L341.83,342.16L343.24,342.48L344.65,342.80L346.06,343.11L347.48,343.42L348.89,343.73L350.30,344.03L351.72,344.33L353.13,344.62L354.54,344.91L355.95,345.20L357.37,345.48L358.78,345.76L360.19,346.04L361.60,346.31L363.02,346.58L364.43,346.85L365.84,347.12L367.25,347.38L368.67,347.63L370.08,347.89L371.49,348.14L372.91,348.39L374.32,348.63L375.73,348.87L377.14,349.11L378.56,349.35L379.97,349.58L381.38,349.81L382.79,350.04L384.21,350.26L385.62,350.48L387.03,350.70L388.45,350.92L389.86,351.13L391.27,351.34L392.68,351.55L394.10,351.75L395.51,351.96L396.92,352.16L398.33,352.36L399.75,352.55L401.16,352.74L402.57,352.94L403.99,353.12L405.40,353.31L406.81,353.49L408.22,353.68L409.64,353.85L411.05,354.03L412.46,354.21L413.87,354.38L415.29,354.55L416.70,354.72L418.11,354.88L419.53,355.05L420.94,355.21L422.35,355.37L423.76,355.53L425.18,355.68L426.59,355.84L428.00,355.99L429.41,356.14L430.83,356.29L432.24,356.44L433.65,356.58L435.06,356.72L436.48,356.87L437.89,357.00L439.30,357.14L440.72,357.28L442.13,357.41L443.54,357.55L444.95,357.68L446.37,357.81L447.78,357.93L449.19,358.06L450.60,358.18L452.02,358.31L453.43,358.43L454.84,358.55L456.26,358.67L457.67,358.78L459.08,358.90L460.49,359.01L461.91,359.13L463.32,359.24L464.73,359.35L466.14,359.46L467.56,359.56L468.97,359.67L470.38,359.77L471.80,359.88L473.21,359.98L474.62,360.08L476.03,360.18L477.45,360.28L478.86,360.37L480.27,360.47L481.68,360.56L483.10,360.66L484.51,360.75L485.92,360.84L487.34,360.93L488.75,361.02L490.16,361.11L491.57,361.19L492.99,361.28L494.40,361.36L495.81,361.44L497.22,361.53L498.64,361.61L500.05,361.69L501.46,361.77L502.87,361.85L504.29,361.92L505.70,362.00L507.11,362.07L508.53,362.15L509.94,362.22L511.35,362.29L512.76,362.37L514.18,362.44L515.59,362.51L517.00,362.58L518.41,362.64L519.83,362.71L521.24,362.78L522.65,362.84L524.07,362.91L525.48,362.97L526.89,363.03L528.30,363.10L529.72,363.16L531.13,363.22L532.54,363.28L533.95,363.34L535.37,363.40L536.78,363.45L538.19,363.51L539.61,363.57L541.02,363.62L542.43,363.68L543.84,363.73L545.26,363.79L546.67,363.84L548.08,363.89L549.49,363.94L550.91,363.99L552.32,364.04L553.73,364.09L555.15,364.14L556.56,364.19L557.97,364.24L559.38,364.29L560.80,364.33L562.21,364.38L563.62,364.42L565.03,364.47L566.45,364.51L567.86,364.56L569.27,364.60L570.68,364.64L572.10,364.68L573.51,364.73L574.92,364.77L576.34,364.81L577.75,364.85L579.16,364.89L580.57,364.93L581.99,364.97L583.40,365.00L584.81,365.04L586.22,365.08L587.64,365.11L589.05,365.15L590.46,365.19L591.88,365.22L593.29,365.26L594.70,365.29L596.11,365.33L597.53,365.36L598.94,365.39L600.35,365.42L601.76,365.46L603.18,365.49L604.59,365.52L606.00,365.55L607.42,365.58L608.83,365.61L610.24,365.64L611.65,365.67L613.07,365.70L614.48,365.73L615.89,365.76L617.30,365.79L618.72,365.81L620.13,365.84L621.54,365.87L622.96,365.90L624.37,365.92L625.78,365.95L627.19,365.97L628.61,366.00L630.02,366.02L631.43,366.05L632.84,366.07L634.26,366.10L635.67,366.12L637.08,366.15L638.49,366.17L639.91,366.19L641.32,366.21L642.73,366.24L644.15,366.26L645.56,366.28L646.97,366.30L648.38,366.32L649.80,366.34L651.21,366.37L652.62,366.39L654.03,366.41L655.45,366.43L656.86,366.45L658.27,366.47L659.69,366.48L661.10,366.50L662.51,366.52L663.92,366.54L665.34,366.56L666.75,366.58L668.16,366.60L669.57,366.61L670.99,366.63L672.40,366.65" fill="none" stroke="#000000" stroke-width="2.4" stroke-dasharray="8.8 3.6" stroke-linejoin="round"/>
<path d="M192.4,20.9L110.54,276.66" stroke="#000" stroke-width="1.0" fill="none"/>
<path d="M103.1,299.9L103.91,270.13L110.54,276.66L119.72,275.19Z" fill="#000"/>
<text class="an" x="287.4" y="39.7"><tspan font-weight="bold">Solid Line:</tspan> Isothermal Wall (<tspan font-style="italic">τ=1.5</tspan>)</text>
<text class="an" x="287.4" y="85.5"><tspan font-weight="bold">Dashed:</tspan> Ramped Wall (<tspan font-style="italic">τ<tspan dx="1.1">=</tspan>0.5</tspan>)</text>
<rect x="572.5" y="7.5" width="108" height="211" fill="#fff" stroke="#222" stroke-width="1"/>
<text class="lg" fill="#ff0000" transform="translate(670,29.7) scale(1,1.04)" text-anchor="end">=0.01</text>
<text class="lg" fill="#ff0000" transform="translate(613.2,29.7) scale(1.3,1.04)" text-anchor="end">ϕ</text>
<text class="lg" fill="#ff00ff" transform="translate(670,55.6) scale(1,1.04)" text-anchor="end">=0.02</text>
<text class="lg" fill="#ff00ff" transform="translate(613.2,55.6) scale(1.3,1.04)" text-anchor="end">ϕ</text>
<text class="lg" fill="#0000ff" transform="translate(670,81.6) scale(1,1.04)" text-anchor="end">=0.03</text>
<text class="lg" fill="#0000ff" transform="translate(613.2,81.6) scale(1.3,1.04)" text-anchor="end">ϕ</text>
<text class="lg" fill="#000000" transform="translate(670,107.5) scale(1,1.04)" text-anchor="end">=0.04</text>
<text class="lg" fill="#000000" transform="translate(613.2,107.5) scale(1.3,1.04)" text-anchor="end">ϕ</text>
<text class="lg" fill="#ff0000" transform="translate(670,133.5) scale(1,1.04)" text-anchor="end">=0.01</text>
<text class="lg" fill="#ff0000" transform="translate(613.2,133.5) scale(1.3,1.04)" text-anchor="end">ϕ</text>
<text class="lg" fill="#ff00ff" transform="translate(670,159.4) scale(1,1.04)" text-anchor="end">=0.02</text>
<text class="lg" fill="#ff00ff" transform="translate(613.2,159.4) scale(1.3,1.04)" text-anchor="end">ϕ</text>
<text class="lg" fill="#0000ff" transform="translate(670,185.4) scale(1,1.04)" text-anchor="end">=0.03</text>
<text class="lg" fill="#0000ff" transform="translate(613.2,185.4) scale(1.3,1.04)" text-anchor="end">ϕ</text>
<text class="lg" fill="#000000" transform="translate(670,211.3) scale(1,1.04)" text-anchor="end">=0.04</text>
<text class="lg" fill="#000000" transform="translate(613.2,211.3) scale(1.3,1.04)" text-anchor="end">ϕ</text>
</svg></body></html>
